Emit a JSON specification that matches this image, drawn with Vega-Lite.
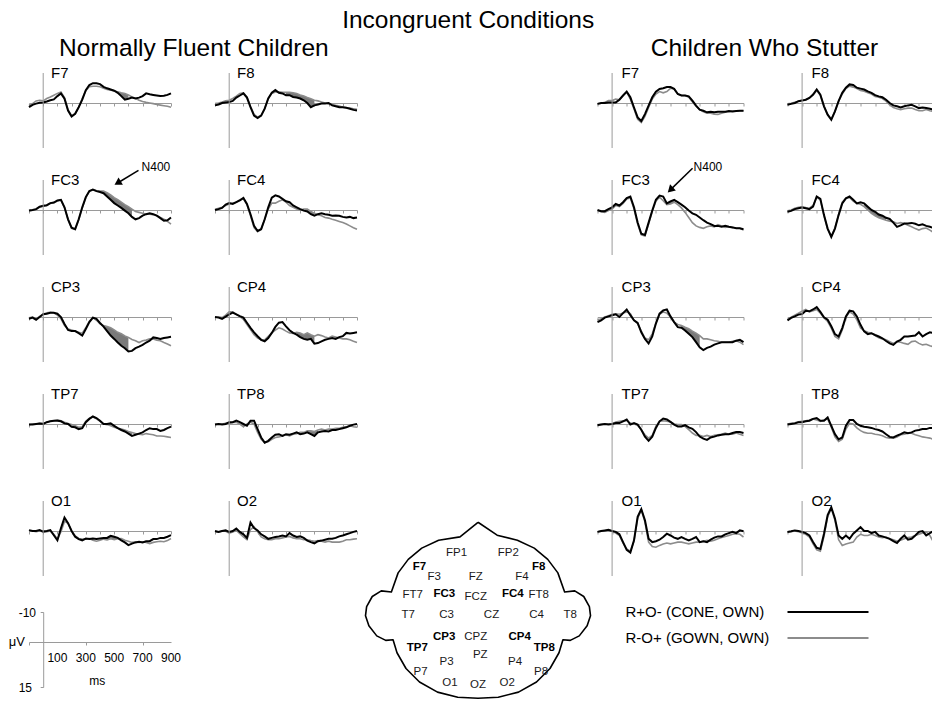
{
"$schema":"https://vega.github.io/schema/vega-lite/v6.json",
"padding":{"left":8,"top":8,"right":4,"bottom":4},
"background":"white",
"config":{"view":{"stroke":null},"font":"Liberation Sans",
"title":{"font":"Liberation Sans","fontWeight":"normal","color":"#000","fontSize":24.5},
"axis":{"grid":false,"labels":false,"title":null,"domainColor":"#9a9a9a","tickColor":"#9a9a9a","tickSize":3,"domainWidth":1,"tickWidth":1,"minExtent":0},
"axisX":{"minExtent":0},"axisY":{"minExtent":0},
"text":{"font":"Liberation Sans","color":"#000"}},
"title":{"text":"Incongruent Conditions","anchor":"middle","offset":-16.5,"baseline":"alphabetic","dx":-5},
"data":{"name":"erp"},
"datasets":{"erp":[
{"g":"NFC","e":"F7","t":-100,"a":1.4,"b":0.8},{"g":"NFC","e":"F7","t":-75,"a":0.6,"b":0.2},{"g":"NFC","e":"F7","t":-50,"a":0.2,"b":-0.7},{"g":"NFC","e":"F7","t":-25,"a":-0.1,"b":-0.9},{"g":"NFC","e":"F7","t":0,"a":-0.2,"b":-0.7},{"g":"NFC","e":"F7","t":25,"a":-0.5,"b":-1.5},{"g":"NFC","e":"F7","t":50,"a":-0.9,"b":-2.0},{"g":"NFC","e":"F7","t":75,"a":-1.2,"b":-2.6},{"g":"NFC","e":"F7","t":100,"a":-2.3,"b":-3.2},{"g":"NFC","e":"F7","t":125,"a":-3.2,"b":-3.7},
{"g":"NFC","e":"F7","t":150,"a":-1.4,"b":-1.8},{"g":"NFC","e":"F7","t":175,"a":2.5,"b":2.3},{"g":"NFC","e":"F7","t":200,"a":4.5,"b":4.2},{"g":"NFC","e":"F7","t":225,"a":3.6,"b":3.6},{"g":"NFC","e":"F7","t":250,"a":1.4,"b":1.4},{"g":"NFC","e":"F7","t":275,"a":-1.1,"b":-1.5},{"g":"NFC","e":"F7","t":300,"a":-4.3,"b":-4.1},{"g":"NFC","e":"F7","t":325,"a":-6.0,"b":-5.4},{"g":"NFC","e":"F7","t":350,"a":-6.6,"b":-5.6},{"g":"NFC","e":"F7","t":375,"a":-6.6,"b":-5.6},
{"g":"NFC","e":"F7","t":400,"a":-6.3,"b":-5.4},{"g":"NFC","e":"F7","t":425,"a":-5.4,"b":-4.9},{"g":"NFC","e":"F7","t":450,"a":-4.9,"b":-4.5},{"g":"NFC","e":"F7","t":475,"a":-4.5,"b":-4.3},{"g":"NFC","e":"F7","t":500,"a":-4.1,"b":-4.1},{"g":"NFC","e":"F7","t":525,"a":-3.4,"b":-3.7,"s":1},{"g":"NFC","e":"F7","t":550,"a":-2.3,"b":-3.4,"s":1},{"g":"NFC","e":"F7","t":575,"a":-1.1,"b":-3.2,"s":1},{"g":"NFC","e":"F7","t":600,"a":-1.4,"b":-2.7,"s":1},{"g":"NFC","e":"F7","t":625,"a":-1.8,"b":-2.0},
{"g":"NFC","e":"F7","t":650,"a":-1.5,"b":-1.6},{"g":"NFC","e":"F7","t":675,"a":-1.8,"b":-0.9},{"g":"NFC","e":"F7","t":700,"a":-2.3,"b":-0.5},{"g":"NFC","e":"F7","t":725,"a":-3.2,"b":-0.2},{"g":"NFC","e":"F7","t":750,"a":-2.9,"b":0},{"g":"NFC","e":"F7","t":775,"a":-2.7,"b":0.2},{"g":"NFC","e":"F7","t":800,"a":-2.5,"b":0.5},{"g":"NFC","e":"F7","t":825,"a":-2.3,"b":0.7},{"g":"NFC","e":"F7","t":850,"a":-2.4,"b":0.9},{"g":"NFC","e":"F7","t":875,"a":-2.7,"b":1.1},{"g":"NFC","e":"F7","t":900,"a":-3.2,"b":1.4},

{"g":"NFC","e":"F8","t":-100,"a":0.8,"b":0.2},{"g":"NFC","e":"F8","t":-75,"a":0.5,"b":0},{"g":"NFC","e":"F8","t":-50,"a":0,"b":-0.3},{"g":"NFC","e":"F8","t":-25,"a":-0.2,"b":-0.7},{"g":"NFC","e":"F8","t":0,"a":-0.3,"b":-0.9},{"g":"NFC","e":"F8","t":25,"a":-0.7,"b":-1.5},{"g":"NFC","e":"F8","t":50,"a":-1.8,"b":-2.3},{"g":"NFC","e":"F8","t":75,"a":-2.5,"b":-3.2},{"g":"NFC","e":"F8","t":100,"a":-3.2,"b":-3.4},{"g":"NFC","e":"F8","t":125,"a":-1.8,"b":-2.0},
{"g":"NFC","e":"F8","t":150,"a":1.4,"b":1.1},{"g":"NFC","e":"F8","t":175,"a":4.2,"b":3.8},{"g":"NFC","e":"F8","t":200,"a":5.0,"b":4.7},{"g":"NFC","e":"F8","t":225,"a":4.2,"b":4.2},{"g":"NFC","e":"F8","t":250,"a":1.9,"b":1.9},{"g":"NFC","e":"F8","t":275,"a":-1.5,"b":-1.5},{"g":"NFC","e":"F8","t":300,"a":-3.4,"b":-3.2},{"g":"NFC","e":"F8","t":325,"a":-4.3,"b":-3.7},{"g":"NFC","e":"F8","t":350,"a":-3.4,"b":-3.7},{"g":"NFC","e":"F8","t":375,"a":-3.2,"b":-3.6},
{"g":"NFC","e":"F8","t":400,"a":-2.6,"b":-3.6,"s":1},{"g":"NFC","e":"F8","t":425,"a":-2.6,"b":-3.6,"s":1},{"g":"NFC","e":"F8","t":450,"a":-2.0,"b":-3.4,"s":1},{"g":"NFC","e":"F8","t":475,"a":-1.8,"b":-3.2,"s":1},{"g":"NFC","e":"F8","t":500,"a":-1.5,"b":-2.7,"s":1},{"g":"NFC","e":"F8","t":525,"a":-0.9,"b":-2.3,"s":1},{"g":"NFC","e":"F8","t":550,"a":0,"b":-1.8,"s":1},{"g":"NFC","e":"F8","t":575,"a":1.4,"b":-1.4,"s":1},{"g":"NFC","e":"F8","t":600,"a":0.8,"b":-0.9,"s":1},{"g":"NFC","e":"F8","t":625,"a":0.5,"b":-0.7},
{"g":"NFC","e":"F8","t":650,"a":0.2,"b":-0.3},{"g":"NFC","e":"F8","t":675,"a":0.2,"b":0},{"g":"NFC","e":"F8","t":700,"a":0,"b":0.2},{"g":"NFC","e":"F8","t":725,"a":0.8,"b":0.5},{"g":"NFC","e":"F8","t":750,"a":1.1,"b":0.8},{"g":"NFC","e":"F8","t":775,"a":1.4,"b":1.0},{"g":"NFC","e":"F8","t":800,"a":1.4,"b":1.4},{"g":"NFC","e":"F8","t":825,"a":1.6,"b":1.6},{"g":"NFC","e":"F8","t":850,"a":1.9,"b":1.7},{"g":"NFC","e":"F8","t":875,"a":2.3,"b":1.9},{"g":"NFC","e":"F8","t":900,"a":2.5,"b":2.1},

{"g":"NFC","e":"FC3","t":-100,"a":0.2,"b":0.3},{"g":"NFC","e":"FC3","t":-75,"a":0,"b":0.1},{"g":"NFC","e":"FC3","t":-50,"a":-0.3,"b":-0.2},{"g":"NFC","e":"FC3","t":-25,"a":-1.1,"b":-1.0},{"g":"NFC","e":"FC3","t":0,"a":-1.4,"b":-1.3},{"g":"NFC","e":"FC3","t":25,"a":-1.6,"b":-1.5},{"g":"NFC","e":"FC3","t":50,"a":-2.3,"b":-2.2},{"g":"NFC","e":"FC3","t":75,"a":-2.5,"b":-2.4},{"g":"NFC","e":"FC3","t":100,"a":-3.2,"b":-3.0},{"g":"NFC","e":"FC3","t":125,"a":-3.4,"b":-3.3},
{"g":"NFC","e":"FC3","t":150,"a":-0.9,"b":-0.8},{"g":"NFC","e":"FC3","t":175,"a":3.1,"b":3.2},{"g":"NFC","e":"FC3","t":200,"a":5.9,"b":6.1},{"g":"NFC","e":"FC3","t":225,"a":6.4,"b":6.5},{"g":"NFC","e":"FC3","t":250,"a":3.1,"b":3.3},{"g":"NFC","e":"FC3","t":275,"a":-0.9,"b":-0.7},{"g":"NFC","e":"FC3","t":300,"a":-4.3,"b":-4.1},{"g":"NFC","e":"FC3","t":325,"a":-6.3,"b":-6.2},{"g":"NFC","e":"FC3","t":350,"a":-6.8,"b":-6.8},{"g":"NFC","e":"FC3","t":375,"a":-6.3,"b":-6.5},
{"g":"NFC","e":"FC3","t":400,"a":-6.0,"b":-6.3},{"g":"NFC","e":"FC3","t":425,"a":-5.6,"b":-6.3,"s":1},{"g":"NFC","e":"FC3","t":450,"a":-4.5,"b":-5.8,"s":1},{"g":"NFC","e":"FC3","t":475,"a":-3.4,"b":-5.0,"s":1},{"g":"NFC","e":"FC3","t":500,"a":-2.3,"b":-4.1,"s":1},{"g":"NFC","e":"FC3","t":525,"a":-1.5,"b":-3.4,"s":1},{"g":"NFC","e":"FC3","t":550,"a":-0.7,"b":-2.6,"s":1},{"g":"NFC","e":"FC3","t":575,"a":0.2,"b":-1.8,"s":1},{"g":"NFC","e":"FC3","t":600,"a":1.1,"b":-1.1,"s":1},{"g":"NFC","e":"FC3","t":625,"a":2.3,"b":-0.3,"s":1},
{"g":"NFC","e":"FC3","t":650,"a":3.1,"b":0.5},{"g":"NFC","e":"FC3","t":675,"a":2.7,"b":0.8},{"g":"NFC","e":"FC3","t":700,"a":1.9,"b":1.1},{"g":"NFC","e":"FC3","t":725,"a":1.4,"b":1.4},{"g":"NFC","e":"FC3","t":750,"a":1.1,"b":1.4},{"g":"NFC","e":"FC3","t":775,"a":1.4,"b":1.6},{"g":"NFC","e":"FC3","t":800,"a":1.9,"b":1.9},{"g":"NFC","e":"FC3","t":825,"a":2.7,"b":2.5},{"g":"NFC","e":"FC3","t":850,"a":3.6,"b":3.1},{"g":"NFC","e":"FC3","t":875,"a":3.4,"b":3.8},{"g":"NFC","e":"FC3","t":900,"a":2.5,"b":4.7},

{"g":"NFC","e":"FC4","t":-100,"a":0,"b":-0.2},{"g":"NFC","e":"FC4","t":-75,"a":-0.3,"b":-0.6},{"g":"NFC","e":"FC4","t":-50,"a":-0.7,"b":-0.9},{"g":"NFC","e":"FC4","t":-25,"a":-1.8,"b":-1.5},{"g":"NFC","e":"FC4","t":0,"a":-2.3,"b":-2.0},{"g":"NFC","e":"FC4","t":25,"a":-2.0,"b":-2.3},{"g":"NFC","e":"FC4","t":50,"a":-2.6,"b":-2.6},{"g":"NFC","e":"FC4","t":75,"a":-3.2,"b":-3.4},{"g":"NFC","e":"FC4","t":100,"a":-4.0,"b":-3.7},{"g":"NFC","e":"FC4","t":125,"a":-2.0,"b":-1.8},
{"g":"NFC","e":"FC4","t":150,"a":1.4,"b":1.9},{"g":"NFC","e":"FC4","t":175,"a":5.3,"b":5.9},{"g":"NFC","e":"FC4","t":200,"a":7.0,"b":7.2},{"g":"NFC","e":"FC4","t":225,"a":6.4,"b":6.4},{"g":"NFC","e":"FC4","t":250,"a":3.1,"b":3.1},{"g":"NFC","e":"FC4","t":275,"a":-0.9,"b":-0.3},{"g":"NFC","e":"FC4","t":300,"a":-4.1,"b":-2.3},{"g":"NFC","e":"FC4","t":325,"a":-4.9,"b":-2.3},{"g":"NFC","e":"FC4","t":350,"a":-4.5,"b":-2.9},{"g":"NFC","e":"FC4","t":375,"a":-3.7,"b":-3.4},
{"g":"NFC","e":"FC4","t":400,"a":-2.9,"b":-2.6},{"g":"NFC","e":"FC4","t":425,"a":-2.6,"b":-1.5},{"g":"NFC","e":"FC4","t":450,"a":-1.5,"b":-0.9},{"g":"NFC","e":"FC4","t":475,"a":-0.9,"b":-0.3},{"g":"NFC","e":"FC4","t":500,"a":-0.3,"b":0},{"g":"NFC","e":"FC4","t":525,"a":0.2,"b":-0.3,"s":1},{"g":"NFC","e":"FC4","t":550,"a":0.5,"b":-0.3,"s":1},{"g":"NFC","e":"FC4","t":575,"a":1.4,"b":0.5,"s":1},{"g":"NFC","e":"FC4","t":600,"a":1.9,"b":1.1,"s":1},{"g":"NFC","e":"FC4","t":625,"a":1.4,"b":1.6},
{"g":"NFC","e":"FC4","t":650,"a":1.1,"b":1.9},{"g":"NFC","e":"FC4","t":675,"a":1.4,"b":2.5},{"g":"NFC","e":"FC4","t":700,"a":1.6,"b":2.7},{"g":"NFC","e":"FC4","t":725,"a":1.9,"b":3.1},{"g":"NFC","e":"FC4","t":750,"a":1.8,"b":3.4},{"g":"NFC","e":"FC4","t":775,"a":1.9,"b":3.8},{"g":"NFC","e":"FC4","t":800,"a":2.3,"b":4.2},{"g":"NFC","e":"FC4","t":825,"a":2.5,"b":4.7},{"g":"NFC","e":"FC4","t":850,"a":2.3,"b":5.3},{"g":"NFC","e":"FC4","t":875,"a":2.7,"b":5.9},{"g":"NFC","e":"FC4","t":900,"a":2.5,"b":6.4},

{"g":"NFC","e":"CP3","t":-100,"a":0.6,"b":0.3},{"g":"NFC","e":"CP3","t":-75,"a":0.2,"b":0},{"g":"NFC","e":"CP3","t":-50,"a":0.9,"b":0.6},{"g":"NFC","e":"CP3","t":-25,"a":0,"b":-0.2},{"g":"NFC","e":"CP3","t":0,"a":-0.9,"b":-0.9},{"g":"NFC","e":"CP3","t":25,"a":-1.1,"b":-1.4},{"g":"NFC","e":"CP3","t":50,"a":-1.4,"b":-1.6},{"g":"NFC","e":"CP3","t":75,"a":-1.4,"b":-1.4},{"g":"NFC","e":"CP3","t":100,"a":-1.1,"b":-0.6},{"g":"NFC","e":"CP3","t":125,"a":0,"b":0.6},
{"g":"NFC","e":"CP3","t":150,"a":2.3,"b":2.8},{"g":"NFC","e":"CP3","t":175,"a":4.3,"b":4.0},{"g":"NFC","e":"CP3","t":200,"a":4.7,"b":4.3},{"g":"NFC","e":"CP3","t":225,"a":4.7,"b":4.7},{"g":"NFC","e":"CP3","t":250,"a":5.4,"b":5.1},{"g":"NFC","e":"CP3","t":275,"a":6.2,"b":5.4},{"g":"NFC","e":"CP3","t":300,"a":4.0,"b":3.6},{"g":"NFC","e":"CP3","t":325,"a":1.7,"b":1.4},{"g":"NFC","e":"CP3","t":350,"a":0.2,"b":0.2},{"g":"NFC","e":"CP3","t":375,"a":0.6,"b":1.1},
{"g":"NFC","e":"CP3","t":400,"a":2.0,"b":2.3},{"g":"NFC","e":"CP3","t":425,"a":3.2,"b":2.8,"s":1},{"g":"NFC","e":"CP3","t":450,"a":4.7,"b":3.2,"s":1},{"g":"NFC","e":"CP3","t":475,"a":6.2,"b":3.6,"s":1},{"g":"NFC","e":"CP3","t":500,"a":7.3,"b":4.3,"s":1},{"g":"NFC","e":"CP3","t":525,"a":8.5,"b":5.1,"s":1},{"g":"NFC","e":"CP3","t":550,"a":9.6,"b":5.6,"s":1},{"g":"NFC","e":"CP3","t":575,"a":10.4,"b":6.3,"s":1},{"g":"NFC","e":"CP3","t":600,"a":11.5,"b":6.8,"s":1},{"g":"NFC","e":"CP3","t":625,"a":11.3,"b":7.5},
{"g":"NFC","e":"CP3","t":650,"a":10.4,"b":7.9},{"g":"NFC","e":"CP3","t":675,"a":9.9,"b":8.5},{"g":"NFC","e":"CP3","t":700,"a":9.3,"b":7.9},{"g":"NFC","e":"CP3","t":725,"a":8.5,"b":7.7},{"g":"NFC","e":"CP3","t":750,"a":7.9,"b":7.3},{"g":"NFC","e":"CP3","t":775,"a":6.8,"b":7.3},{"g":"NFC","e":"CP3","t":800,"a":7.0,"b":7.7},{"g":"NFC","e":"CP3","t":825,"a":7.3,"b":7.9},{"g":"NFC","e":"CP3","t":850,"a":7.0,"b":8.5},{"g":"NFC","e":"CP3","t":875,"a":6.8,"b":9.0},{"g":"NFC","e":"CP3","t":900,"a":6.6,"b":9.6},

{"g":"NFC","e":"CP4","t":-100,"a":0,"b":0},{"g":"NFC","e":"CP4","t":-75,"a":0.2,"b":-0.1},{"g":"NFC","e":"CP4","t":-50,"a":0.6,"b":0.2},{"g":"NFC","e":"CP4","t":-25,"a":-0.1,"b":-0.6},{"g":"NFC","e":"CP4","t":0,"a":-0.9,"b":-1.7},{"g":"NFC","e":"CP4","t":25,"a":-1.5,"b":-1.7},{"g":"NFC","e":"CP4","t":50,"a":-0.9,"b":-0.9},{"g":"NFC","e":"CP4","t":75,"a":-0.3,"b":-0.1},{"g":"NFC","e":"CP4","t":100,"a":0.2,"b":0.8},{"g":"NFC","e":"CP4","t":125,"a":1.9,"b":2.5},
{"g":"NFC","e":"CP4","t":150,"a":3.6,"b":4.2},{"g":"NFC","e":"CP4","t":175,"a":5.1,"b":5.9},{"g":"NFC","e":"CP4","t":200,"a":6.4,"b":7.0},{"g":"NFC","e":"CP4","t":225,"a":7.6,"b":7.6},{"g":"NFC","e":"CP4","t":250,"a":8.1,"b":7.6},{"g":"NFC","e":"CP4","t":275,"a":7.0,"b":6.4},{"g":"NFC","e":"CP4","t":300,"a":5.3,"b":5.3},{"g":"NFC","e":"CP4","t":325,"a":3.3,"b":4.4},{"g":"NFC","e":"CP4","t":350,"a":1.9,"b":3.6},{"g":"NFC","e":"CP4","t":375,"a":1.7,"b":4.0},
{"g":"NFC","e":"CP4","t":400,"a":3.1,"b":4.7},{"g":"NFC","e":"CP4","t":425,"a":4.4,"b":5.3},{"g":"NFC","e":"CP4","t":450,"a":5.3,"b":5.5},{"g":"NFC","e":"CP4","t":475,"a":5.9,"b":5.1,"s":1},{"g":"NFC","e":"CP4","t":500,"a":6.7,"b":5.3,"s":1},{"g":"NFC","e":"CP4","t":525,"a":7.3,"b":5.9,"s":1},{"g":"NFC","e":"CP4","t":550,"a":7.6,"b":5.3,"s":1},{"g":"NFC","e":"CP4","t":575,"a":7.3,"b":5.9,"s":1},{"g":"NFC","e":"CP4","t":600,"a":8.9,"b":6.4,"s":1},{"g":"NFC","e":"CP4","t":625,"a":8.7,"b":5.9},
{"g":"NFC","e":"CP4","t":650,"a":8.1,"b":6.2},{"g":"NFC","e":"CP4","t":675,"a":7.6,"b":6.7},{"g":"NFC","e":"CP4","t":700,"a":7.3,"b":7.0},{"g":"NFC","e":"CP4","t":725,"a":7.0,"b":6.4},{"g":"NFC","e":"CP4","t":750,"a":7.3,"b":6.7},{"g":"NFC","e":"CP4","t":775,"a":6.7,"b":7.0},{"g":"NFC","e":"CP4","t":800,"a":6.4,"b":7.3},{"g":"NFC","e":"CP4","t":825,"a":5.3,"b":7.3},{"g":"NFC","e":"CP4","t":850,"a":5.5,"b":7.6},{"g":"NFC","e":"CP4","t":875,"a":5.3,"b":8.1},{"g":"NFC","e":"CP4","t":900,"a":5.1,"b":8.5},

{"g":"NFC","e":"TP7","t":-100,"a":0.2,"b":0.2},{"g":"NFC","e":"TP7","t":-75,"a":0.2,"b":0},{"g":"NFC","e":"TP7","t":-50,"a":0,"b":0},{"g":"NFC","e":"TP7","t":-25,"a":-0.2,"b":-0.2},{"g":"NFC","e":"TP7","t":0,"a":0,"b":-0.2},{"g":"NFC","e":"TP7","t":25,"a":-0.6,"b":-0.6},{"g":"NFC","e":"TP7","t":50,"a":-0.9,"b":-0.9},{"g":"NFC","e":"TP7","t":75,"a":-1.1,"b":-1.1},{"g":"NFC","e":"TP7","t":100,"a":-1.1,"b":-1.4},{"g":"NFC","e":"TP7","t":125,"a":-0.9,"b":-1.1},
{"g":"NFC","e":"TP7","t":150,"a":-0.2,"b":-0.6},{"g":"NFC","e":"TP7","t":175,"a":0,"b":-0.2},{"g":"NFC","e":"TP7","t":200,"a":0.9,"b":0.2},{"g":"NFC","e":"TP7","t":225,"a":1.1,"b":0.6},{"g":"NFC","e":"TP7","t":250,"a":1.7,"b":1.1},{"g":"NFC","e":"TP7","t":275,"a":1.4,"b":0.9},{"g":"NFC","e":"TP7","t":300,"a":-0.6,"b":-0.9},{"g":"NFC","e":"TP7","t":325,"a":-1.7,"b":-1.9},{"g":"NFC","e":"TP7","t":350,"a":-2.5,"b":-2.3},{"g":"NFC","e":"TP7","t":375,"a":-2.0,"b":-1.7},
{"g":"NFC","e":"TP7","t":400,"a":-1.1,"b":-0.9},{"g":"NFC","e":"TP7","t":425,"a":0,"b":0},{"g":"NFC","e":"TP7","t":450,"a":0,"b":0.2},{"g":"NFC","e":"TP7","t":475,"a":-0.2,"b":0.6},{"g":"NFC","e":"TP7","t":500,"a":0.6,"b":1.1,"s":1},{"g":"NFC","e":"TP7","t":525,"a":1.4,"b":1.4,"s":1},{"g":"NFC","e":"TP7","t":550,"a":2.0,"b":1.7,"s":1},{"g":"NFC","e":"TP7","t":575,"a":2.5,"b":2.0,"s":1},{"g":"NFC","e":"TP7","t":600,"a":3.2,"b":2.5,"s":1},{"g":"NFC","e":"TP7","t":625,"a":4.0,"b":2.8,"s":1},
{"g":"NFC","e":"TP7","t":650,"a":3.6,"b":3.2},{"g":"NFC","e":"TP7","t":675,"a":3.2,"b":3.4},{"g":"NFC","e":"TP7","t":700,"a":2.8,"b":3.6},{"g":"NFC","e":"TP7","t":725,"a":2.0,"b":3.2},{"g":"NFC","e":"TP7","t":750,"a":1.4,"b":3.4},{"g":"NFC","e":"TP7","t":775,"a":1.7,"b":3.6},{"g":"NFC","e":"TP7","t":800,"a":1.7,"b":4.0},{"g":"NFC","e":"TP7","t":825,"a":2.3,"b":4.0},{"g":"NFC","e":"TP7","t":850,"a":2.0,"b":4.1},{"g":"NFC","e":"TP7","t":875,"a":1.4,"b":4.3},{"g":"NFC","e":"TP7","t":900,"a":0.9,"b":4.5},

{"g":"NFC","e":"TP8","t":-100,"a":0.2,"b":0.2},{"g":"NFC","e":"TP8","t":-75,"a":0,"b":0},{"g":"NFC","e":"TP8","t":-50,"a":0.2,"b":0},{"g":"NFC","e":"TP8","t":-25,"a":0,"b":-0.2},{"g":"NFC","e":"TP8","t":0,"a":-0.6,"b":-0.2},{"g":"NFC","e":"TP8","t":25,"a":-0.6,"b":-0.5},{"g":"NFC","e":"TP8","t":50,"a":-1.1,"b":-0.6},{"g":"NFC","e":"TP8","t":75,"a":-0.6,"b":0},{"g":"NFC","e":"TP8","t":100,"a":0,"b":0.9},{"g":"NFC","e":"TP8","t":125,"a":0.6,"b":0},
{"g":"NFC","e":"TP8","t":150,"a":-1.1,"b":-0.6},{"g":"NFC","e":"TP8","t":175,"a":-1.1,"b":0},{"g":"NFC","e":"TP8","t":200,"a":1.7,"b":2.8},{"g":"NFC","e":"TP8","t":225,"a":4.5,"b":5.1},{"g":"NFC","e":"TP8","t":250,"a":6.2,"b":6.2},{"g":"NFC","e":"TP8","t":275,"a":5.6,"b":5.9},{"g":"NFC","e":"TP8","t":300,"a":4.5,"b":5.1},{"g":"NFC","e":"TP8","t":325,"a":3.6,"b":4.5},{"g":"NFC","e":"TP8","t":350,"a":3.4,"b":4.3},{"g":"NFC","e":"TP8","t":375,"a":4.0,"b":4.0},
{"g":"NFC","e":"TP8","t":400,"a":3.4,"b":3.6},{"g":"NFC","e":"TP8","t":425,"a":3.6,"b":4.0},{"g":"NFC","e":"TP8","t":450,"a":3.2,"b":3.4},{"g":"NFC","e":"TP8","t":475,"a":2.8,"b":3.2},{"g":"NFC","e":"TP8","t":500,"a":3.4,"b":2.8},{"g":"NFC","e":"TP8","t":525,"a":3.2,"b":2.8},{"g":"NFC","e":"TP8","t":550,"a":2.8,"b":2.3,"s":1},{"g":"NFC","e":"TP8","t":575,"a":3.4,"b":2.3,"s":1},{"g":"NFC","e":"TP8","t":600,"a":4.0,"b":2.5,"s":1},{"g":"NFC","e":"TP8","t":625,"a":2.8,"b":2.0,"s":1},
{"g":"NFC","e":"TP8","t":650,"a":2.5,"b":1.7},{"g":"NFC","e":"TP8","t":675,"a":2.3,"b":2.0},{"g":"NFC","e":"TP8","t":700,"a":2.5,"b":1.7},{"g":"NFC","e":"TP8","t":725,"a":2.0,"b":1.7},{"g":"NFC","e":"TP8","t":750,"a":2.0,"b":1.4},{"g":"NFC","e":"TP8","t":775,"a":1.7,"b":1.4},{"g":"NFC","e":"TP8","t":800,"a":1.4,"b":1.1},{"g":"NFC","e":"TP8","t":825,"a":1.1,"b":0.9},{"g":"NFC","e":"TP8","t":850,"a":0.6,"b":0.6},{"g":"NFC","e":"TP8","t":875,"a":0.2,"b":0.9},{"g":"NFC","e":"TP8","t":900,"a":0,"b":1.1},

{"g":"NFC","e":"O1","t":-100,"a":-0.3,"b":0},{"g":"NFC","e":"O1","t":-75,"a":0,"b":0},{"g":"NFC","e":"O1","t":-50,"a":0,"b":0.2},{"g":"NFC","e":"O1","t":-25,"a":-0.3,"b":0},{"g":"NFC","e":"O1","t":0,"a":0.2,"b":0.2},{"g":"NFC","e":"O1","t":25,"a":0,"b":0.2},{"g":"NFC","e":"O1","t":50,"a":-0.3,"b":0},{"g":"NFC","e":"O1","t":75,"a":1.4,"b":1.1},{"g":"NFC","e":"O1","t":100,"a":3.1,"b":2.7},{"g":"NFC","e":"O1","t":125,"a":-0.9,"b":0.2},
{"g":"NFC","e":"O1","t":150,"a":-4.5,"b":-3.2},{"g":"NFC","e":"O1","t":175,"a":-2.6,"b":-2.6},{"g":"NFC","e":"O1","t":200,"a":0,"b":0},{"g":"NFC","e":"O1","t":225,"a":1.9,"b":1.6},{"g":"NFC","e":"O1","t":250,"a":2.7,"b":2.5},{"g":"NFC","e":"O1","t":275,"a":3.1,"b":2.7},{"g":"NFC","e":"O1","t":300,"a":2.5,"b":2.7},{"g":"NFC","e":"O1","t":325,"a":2.7,"b":2.5},{"g":"NFC","e":"O1","t":350,"a":2.5,"b":3.1},{"g":"NFC","e":"O1","t":375,"a":2.7,"b":3.4},
{"g":"NFC","e":"O1","t":400,"a":2.5,"b":3.1},{"g":"NFC","e":"O1","t":425,"a":2.3,"b":2.7},{"g":"NFC","e":"O1","t":450,"a":2.3,"b":3.0,"s":1},{"g":"NFC","e":"O1","t":475,"a":1.6,"b":2.6,"s":1},{"g":"NFC","e":"O1","t":500,"a":1.9,"b":2.9,"s":1},{"g":"NFC","e":"O1","t":525,"a":2.3,"b":2.6,"s":1},{"g":"NFC","e":"O1","t":550,"a":3.1,"b":2.5},{"g":"NFC","e":"O1","t":575,"a":3.8,"b":3.1},{"g":"NFC","e":"O1","t":600,"a":4.7,"b":3.4},{"g":"NFC","e":"O1","t":625,"a":4.2,"b":3.8},
{"g":"NFC","e":"O1","t":650,"a":3.8,"b":3.6},{"g":"NFC","e":"O1","t":675,"a":3.6,"b":3.8},{"g":"NFC","e":"O1","t":700,"a":3.8,"b":3.6},{"g":"NFC","e":"O1","t":725,"a":3.4,"b":3.8},{"g":"NFC","e":"O1","t":750,"a":3.4,"b":4.2},{"g":"NFC","e":"O1","t":775,"a":2.7,"b":3.8},{"g":"NFC","e":"O1","t":800,"a":2.7,"b":3.6},{"g":"NFC","e":"O1","t":825,"a":2.3,"b":3.4},{"g":"NFC","e":"O1","t":850,"a":2.3,"b":3.6},{"g":"NFC","e":"O1","t":875,"a":1.9,"b":3.2},{"g":"NFC","e":"O1","t":900,"a":1.4,"b":2.5},

{"g":"NFC","e":"O2","t":-100,"a":0,"b":0.3},{"g":"NFC","e":"O2","t":-75,"a":0.3,"b":0.3},{"g":"NFC","e":"O2","t":-50,"a":0,"b":0},{"g":"NFC","e":"O2","t":-25,"a":-0.2,"b":0.1},{"g":"NFC","e":"O2","t":0,"a":0.3,"b":0.7},{"g":"NFC","e":"O2","t":25,"a":0,"b":0.3},{"g":"NFC","e":"O2","t":50,"a":-0.8,"b":-0.2},{"g":"NFC","e":"O2","t":75,"a":0.3,"b":0.9},{"g":"NFC","e":"O2","t":100,"a":1.1,"b":2.0},{"g":"NFC","e":"O2","t":125,"a":2.3,"b":2.9},
{"g":"NFC","e":"O2","t":150,"a":-2.8,"b":-0.5},{"g":"NFC","e":"O2","t":175,"a":-1.0,"b":-1.4},{"g":"NFC","e":"O2","t":200,"a":-0.2,"b":0.3},{"g":"NFC","e":"O2","t":225,"a":1.1,"b":2.0},{"g":"NFC","e":"O2","t":250,"a":1.8,"b":2.6},{"g":"NFC","e":"O2","t":275,"a":2.6,"b":2.9},{"g":"NFC","e":"O2","t":300,"a":2.3,"b":2.9},{"g":"NFC","e":"O2","t":325,"a":2.0,"b":2.6},{"g":"NFC","e":"O2","t":350,"a":1.8,"b":2.6},{"g":"NFC","e":"O2","t":375,"a":1.5,"b":2.3},
{"g":"NFC","e":"O2","t":400,"a":1.8,"b":2.0},{"g":"NFC","e":"O2","t":425,"a":0.7,"b":1.8},{"g":"NFC","e":"O2","t":450,"a":1.5,"b":2.3},{"g":"NFC","e":"O2","t":475,"a":2.0,"b":2.6},{"g":"NFC","e":"O2","t":500,"a":1.8,"b":2.6},{"g":"NFC","e":"O2","t":525,"a":2.3,"b":2.9},{"g":"NFC","e":"O2","t":550,"a":3.2,"b":2.9},{"g":"NFC","e":"O2","t":575,"a":3.7,"b":3.2},{"g":"NFC","e":"O2","t":600,"a":4.1,"b":3.4},{"g":"NFC","e":"O2","t":625,"a":3.4,"b":3.2},
{"g":"NFC","e":"O2","t":650,"a":3.2,"b":3.4},{"g":"NFC","e":"O2","t":675,"a":2.9,"b":3.7},{"g":"NFC","e":"O2","t":700,"a":2.6,"b":3.4},{"g":"NFC","e":"O2","t":725,"a":2.6,"b":3.7},{"g":"NFC","e":"O2","t":750,"a":2.3,"b":3.7},{"g":"NFC","e":"O2","t":775,"a":1.8,"b":3.7},{"g":"NFC","e":"O2","t":800,"a":1.5,"b":3.4},{"g":"NFC","e":"O2","t":825,"a":1.1,"b":2.9},{"g":"NFC","e":"O2","t":850,"a":0.7,"b":2.9},{"g":"NFC","e":"O2","t":875,"a":0.3,"b":2.7},{"g":"NFC","e":"O2","t":900,"a":0,"b":2.6},

{"g":"CWS","e":"F7","t":-100,"a":0.3,"b":0.3},{"g":"CWS","e":"F7","t":-75,"a":0,"b":0.1},{"g":"CWS","e":"F7","t":-50,"a":0,"b":-0.2},{"g":"CWS","e":"F7","t":-25,"a":-0.2,"b":-0.8},{"g":"CWS","e":"F7","t":0,"a":-0.2,"b":-0.8},{"g":"CWS","e":"F7","t":25,"a":-0.2,"b":-1.3},{"g":"CWS","e":"F7","t":50,"a":-1.1,"b":-1.1},{"g":"CWS","e":"F7","t":75,"a":-2.5,"b":-2.5},{"g":"CWS","e":"F7","t":100,"a":-3.8,"b":-3.6},{"g":"CWS","e":"F7","t":125,"a":-1.9,"b":-1.3},
{"g":"CWS","e":"F7","t":150,"a":1.5,"b":2.0},{"g":"CWS","e":"F7","t":175,"a":4.8,"b":5.4},{"g":"CWS","e":"F7","t":200,"a":6.0,"b":6.5},{"g":"CWS","e":"F7","t":225,"a":3.7,"b":4.5},{"g":"CWS","e":"F7","t":250,"a":0.9,"b":1.5},{"g":"CWS","e":"F7","t":275,"a":-1.9,"b":-1.3},{"g":"CWS","e":"F7","t":300,"a":-3.8,"b":-3.0},{"g":"CWS","e":"F7","t":325,"a":-4.7,"b":-3.8},{"g":"CWS","e":"F7","t":350,"a":-4.9,"b":-3.4},{"g":"CWS","e":"F7","t":375,"a":-5.3,"b":-3.8},
{"g":"CWS","e":"F7","t":400,"a":-5.3,"b":-4.9},{"g":"CWS","e":"F7","t":425,"a":-4.7,"b":-4.7},{"g":"CWS","e":"F7","t":450,"a":-3.0,"b":-3.0},{"g":"CWS","e":"F7","t":475,"a":-2.5,"b":-2.5},{"g":"CWS","e":"F7","t":500,"a":-2.5,"b":-2.5},{"g":"CWS","e":"F7","t":525,"a":-2.2,"b":-1.9},{"g":"CWS","e":"F7","t":550,"a":-0.8,"b":-0.4},{"g":"CWS","e":"F7","t":575,"a":0.9,"b":1.1},{"g":"CWS","e":"F7","t":600,"a":2.2,"b":2.2},{"g":"CWS","e":"F7","t":625,"a":2.6,"b":2.9},
{"g":"CWS","e":"F7","t":650,"a":3.1,"b":3.4},{"g":"CWS","e":"F7","t":675,"a":2.9,"b":3.4},{"g":"CWS","e":"F7","t":700,"a":3.1,"b":3.7},{"g":"CWS","e":"F7","t":725,"a":2.9,"b":3.8},{"g":"CWS","e":"F7","t":750,"a":2.9,"b":3.4},{"g":"CWS","e":"F7","t":775,"a":2.9,"b":3.1},{"g":"CWS","e":"F7","t":800,"a":2.7,"b":2.9},{"g":"CWS","e":"F7","t":825,"a":2.8,"b":2.7},{"g":"CWS","e":"F7","t":850,"a":2.7,"b":2.7},{"g":"CWS","e":"F7","t":875,"a":2.6,"b":2.6},{"g":"CWS","e":"F7","t":900,"a":2.6,"b":2.6},

{"g":"CWS","e":"F8","t":-100,"a":0.6,"b":0.3},{"g":"CWS","e":"F8","t":-75,"a":0.3,"b":0.1},{"g":"CWS","e":"F8","t":-50,"a":0,"b":-0.2},{"g":"CWS","e":"F8","t":-25,"a":-0.6,"b":-0.6},{"g":"CWS","e":"F8","t":0,"a":-0.8,"b":-0.9},{"g":"CWS","e":"F8","t":25,"a":-1.1,"b":-1.1},{"g":"CWS","e":"F8","t":50,"a":-1.7,"b":-1.7},{"g":"CWS","e":"F8","t":75,"a":-2.8,"b":-2.6},{"g":"CWS","e":"F8","t":100,"a":-4.5,"b":-4.2},{"g":"CWS","e":"F8","t":125,"a":-2.8,"b":-2.6},
{"g":"CWS","e":"F8","t":150,"a":1.1,"b":1.1},{"g":"CWS","e":"F8","t":175,"a":3.9,"b":3.9},{"g":"CWS","e":"F8","t":200,"a":5.6,"b":5.3},{"g":"CWS","e":"F8","t":225,"a":2.8,"b":2.8},{"g":"CWS","e":"F8","t":250,"a":-0.6,"b":-0.6},{"g":"CWS","e":"F8","t":275,"a":-3.4,"b":-3.0},{"g":"CWS","e":"F8","t":300,"a":-5.1,"b":-4.8},{"g":"CWS","e":"F8","t":325,"a":-6.2,"b":-5.6},{"g":"CWS","e":"F8","t":350,"a":-6.0,"b":-5.3},{"g":"CWS","e":"F8","t":375,"a":-5.1,"b":-4.8},
{"g":"CWS","e":"F8","t":400,"a":-4.8,"b":-4.2},{"g":"CWS","e":"F8","t":425,"a":-4.5,"b":-3.9},{"g":"CWS","e":"F8","t":450,"a":-3.9,"b":-3.4},{"g":"CWS","e":"F8","t":475,"a":-3.4,"b":-3.0},{"g":"CWS","e":"F8","t":500,"a":-2.6,"b":-2.2},{"g":"CWS","e":"F8","t":525,"a":-2.2,"b":-1.9},{"g":"CWS","e":"F8","t":550,"a":-1.9,"b":-1.5},{"g":"CWS","e":"F8","t":575,"a":-1.1,"b":-0.6},{"g":"CWS","e":"F8","t":600,"a":0,"b":0.6},{"g":"CWS","e":"F8","t":625,"a":0.8,"b":1.5},
{"g":"CWS","e":"F8","t":650,"a":1.1,"b":1.9},{"g":"CWS","e":"F8","t":675,"a":1.5,"b":2.2},{"g":"CWS","e":"F8","t":700,"a":1.1,"b":1.9},{"g":"CWS","e":"F8","t":725,"a":0.8,"b":1.7},{"g":"CWS","e":"F8","t":750,"a":0.6,"b":1.7},{"g":"CWS","e":"F8","t":775,"a":1.1,"b":2.2},{"g":"CWS","e":"F8","t":800,"a":1.7,"b":2.6},{"g":"CWS","e":"F8","t":825,"a":1.5,"b":2.6},{"g":"CWS","e":"F8","t":850,"a":1.7,"b":2.2},{"g":"CWS","e":"F8","t":875,"a":1.9,"b":2.6},{"g":"CWS","e":"F8","t":900,"a":2.2,"b":2.8},

{"g":"CWS","e":"FC3","t":-100,"a":0,"b":0.2},{"g":"CWS","e":"FC3","t":-75,"a":0.4,"b":0.6},{"g":"CWS","e":"FC3","t":-50,"a":0.4,"b":0.8},{"g":"CWS","e":"FC3","t":-25,"a":-0.3,"b":0.2},{"g":"CWS","e":"FC3","t":0,"a":-0.9,"b":-0.3},{"g":"CWS","e":"FC3","t":25,"a":-2.0,"b":-1.5},{"g":"CWS","e":"FC3","t":50,"a":-1.5,"b":-1.1},{"g":"CWS","e":"FC3","t":75,"a":-2.6,"b":-2.2},{"g":"CWS","e":"FC3","t":100,"a":-4.0,"b":-3.7},{"g":"CWS","e":"FC3","t":125,"a":-4.5,"b":-4.0},
{"g":"CWS","e":"FC3","t":150,"a":-0.9,"b":-0.3},{"g":"CWS","e":"FC3","t":175,"a":4.2,"b":4.7},{"g":"CWS","e":"FC3","t":200,"a":7.9,"b":8.3},{"g":"CWS","e":"FC3","t":225,"a":8.3,"b":8.7},{"g":"CWS","e":"FC3","t":250,"a":4.2,"b":4.7},{"g":"CWS","e":"FC3","t":275,"a":0.2,"b":0.4},{"g":"CWS","e":"FC3","t":300,"a":-3.4,"b":-2.9},{"g":"CWS","e":"FC3","t":325,"a":-4.8,"b":-4.3},{"g":"CWS","e":"FC3","t":350,"a":-4.5,"b":-3.1},{"g":"CWS","e":"FC3","t":375,"a":-2.2,"b":-1.8,"s":1},
{"g":"CWS","e":"FC3","t":400,"a":-2.9,"b":-2.0,"s":1},{"g":"CWS","e":"FC3","t":425,"a":-3.4,"b":-2.6,"s":1},{"g":"CWS","e":"FC3","t":450,"a":-2.6,"b":-1.8},{"g":"CWS","e":"FC3","t":475,"a":-1.8,"b":-0.7},{"g":"CWS","e":"FC3","t":500,"a":-0.9,"b":0.8},{"g":"CWS","e":"FC3","t":525,"a":0.2,"b":2.5},{"g":"CWS","e":"FC3","t":550,"a":1.1,"b":4.2},{"g":"CWS","e":"FC3","t":575,"a":1.6,"b":5.3},{"g":"CWS","e":"FC3","t":600,"a":2.5,"b":5.8},{"g":"CWS","e":"FC3","t":625,"a":3.4,"b":6.1},
{"g":"CWS","e":"FC3","t":650,"a":4.2,"b":5.6},{"g":"CWS","e":"FC3","t":675,"a":4.7,"b":5.3},{"g":"CWS","e":"FC3","t":700,"a":5.3,"b":5.6},{"g":"CWS","e":"FC3","t":725,"a":5.3,"b":4.9},{"g":"CWS","e":"FC3","t":750,"a":5.6,"b":5.3},{"g":"CWS","e":"FC3","t":775,"a":5.3,"b":5.8},{"g":"CWS","e":"FC3","t":800,"a":5.6,"b":5.6},{"g":"CWS","e":"FC3","t":825,"a":5.8,"b":5.8},{"g":"CWS","e":"FC3","t":850,"a":6.1,"b":6.1},{"g":"CWS","e":"FC3","t":875,"a":6.1,"b":6.1},{"g":"CWS","e":"FC3","t":900,"a":6.4,"b":6.7},

{"g":"CWS","e":"FC4","t":-100,"a":0.6,"b":0.3},{"g":"CWS","e":"FC4","t":-75,"a":0.3,"b":0},{"g":"CWS","e":"FC4","t":-50,"a":-0.3,"b":-0.6},{"g":"CWS","e":"FC4","t":-25,"a":-0.6,"b":-0.9},{"g":"CWS","e":"FC4","t":0,"a":-0.8,"b":-1.1},{"g":"CWS","e":"FC4","t":25,"a":-0.6,"b":-0.8},{"g":"CWS","e":"FC4","t":50,"a":-0.3,"b":-0.6},{"g":"CWS","e":"FC4","t":75,"a":-1.1,"b":-1.5},{"g":"CWS","e":"FC4","t":100,"a":-4.5,"b":-4.2},{"g":"CWS","e":"FC4","t":125,"a":-3.7,"b":-3.4},
{"g":"CWS","e":"FC4","t":150,"a":1.7,"b":1.9},{"g":"CWS","e":"FC4","t":175,"a":6.2,"b":6.4},{"g":"CWS","e":"FC4","t":200,"a":9.0,"b":8.7},{"g":"CWS","e":"FC4","t":225,"a":6.2,"b":6.0},{"g":"CWS","e":"FC4","t":250,"a":1.7,"b":1.5},{"g":"CWS","e":"FC4","t":275,"a":-2.2,"b":-2.6},{"g":"CWS","e":"FC4","t":300,"a":-3.9,"b":-3.9},{"g":"CWS","e":"FC4","t":325,"a":-4.5,"b":-4.2},{"g":"CWS","e":"FC4","t":350,"a":-3.4,"b":-3.0},{"g":"CWS","e":"FC4","t":375,"a":-2.2,"b":-2.2},
{"g":"CWS","e":"FC4","t":400,"a":-2.6,"b":-1.9},{"g":"CWS","e":"FC4","t":425,"a":-2.2,"b":-1.1,"s":1},{"g":"CWS","e":"FC4","t":450,"a":-1.1,"b":0,"s":1},{"g":"CWS","e":"FC4","t":475,"a":0,"b":1.1,"s":1},{"g":"CWS","e":"FC4","t":500,"a":0.6,"b":1.9,"s":1},{"g":"CWS","e":"FC4","t":525,"a":1.5,"b":2.6,"s":1},{"g":"CWS","e":"FC4","t":550,"a":1.9,"b":3.0,"s":1},{"g":"CWS","e":"FC4","t":575,"a":2.6,"b":3.4,"s":1},{"g":"CWS","e":"FC4","t":600,"a":3.0,"b":3.7},{"g":"CWS","e":"FC4","t":625,"a":4.2,"b":3.9},
{"g":"CWS","e":"FC4","t":650,"a":5.6,"b":4.5},{"g":"CWS","e":"FC4","t":675,"a":5.1,"b":4.2},{"g":"CWS","e":"FC4","t":700,"a":4.5,"b":4.5},{"g":"CWS","e":"FC4","t":725,"a":4.5,"b":5.1},{"g":"CWS","e":"FC4","t":750,"a":4.3,"b":5.6},{"g":"CWS","e":"FC4","t":775,"a":4.6,"b":6.2},{"g":"CWS","e":"FC4","t":800,"a":5.1,"b":6.7},{"g":"CWS","e":"FC4","t":825,"a":4.8,"b":6.2},{"g":"CWS","e":"FC4","t":850,"a":5.3,"b":6.0},{"g":"CWS","e":"FC4","t":875,"a":5.6,"b":6.7},{"g":"CWS","e":"FC4","t":900,"a":6.0,"b":7.5},

{"g":"CWS","e":"CP3","t":-100,"a":1.7,"b":1.1},{"g":"CWS","e":"CP3","t":-75,"a":1.1,"b":0.6},{"g":"CWS","e":"CP3","t":-50,"a":0.2,"b":0},{"g":"CWS","e":"CP3","t":-25,"a":-0.2,"b":-0.4},{"g":"CWS","e":"CP3","t":0,"a":-0.6,"b":-0.9},{"g":"CWS","e":"CP3","t":25,"a":-0.9,"b":-1.1},{"g":"CWS","e":"CP3","t":50,"a":0,"b":-0.9},{"g":"CWS","e":"CP3","t":75,"a":-1.3,"b":-1.3},{"g":"CWS","e":"CP3","t":100,"a":-2.5,"b":-1.7},{"g":"CWS","e":"CP3","t":125,"a":-0.6,"b":-1.1},
{"g":"CWS","e":"CP3","t":150,"a":1.1,"b":1.1},{"g":"CWS","e":"CP3","t":175,"a":2.0,"b":2.2},{"g":"CWS","e":"CP3","t":200,"a":5.1,"b":4.7},{"g":"CWS","e":"CP3","t":225,"a":7.3,"b":7.0},{"g":"CWS","e":"CP3","t":250,"a":8.8,"b":7.6},{"g":"CWS","e":"CP3","t":275,"a":6.5,"b":5.6},{"g":"CWS","e":"CP3","t":300,"a":2.2,"b":2.0},{"g":"CWS","e":"CP3","t":325,"a":-1.1,"b":-0.9},{"g":"CWS","e":"CP3","t":350,"a":-2.2,"b":-1.7},{"g":"CWS","e":"CP3","t":375,"a":-2.5,"b":-1.3},
{"g":"CWS","e":"CP3","t":400,"a":-0.2,"b":0},{"g":"CWS","e":"CP3","t":425,"a":1.7,"b":1.7},{"g":"CWS","e":"CP3","t":450,"a":3.4,"b":2.5},{"g":"CWS","e":"CP3","t":475,"a":3.6,"b":2.8,"s":1},{"g":"CWS","e":"CP3","t":500,"a":4.5,"b":3.4,"s":1},{"g":"CWS","e":"CP3","t":525,"a":5.6,"b":3.9,"s":1},{"g":"CWS","e":"CP3","t":550,"a":6.7,"b":4.7,"s":1},{"g":"CWS","e":"CP3","t":575,"a":8.4,"b":5.4,"s":1},{"g":"CWS","e":"CP3","t":600,"a":10.1,"b":6.2,"s":1},{"g":"CWS","e":"CP3","t":625,"a":11.0,"b":7.3},
{"g":"CWS","e":"CP3","t":650,"a":10.3,"b":7.3},{"g":"CWS","e":"CP3","t":675,"a":9.9,"b":7.6},{"g":"CWS","e":"CP3","t":700,"a":9.2,"b":7.9},{"g":"CWS","e":"CP3","t":725,"a":8.8,"b":8.1},{"g":"CWS","e":"CP3","t":750,"a":8.4,"b":8.4},{"g":"CWS","e":"CP3","t":775,"a":8.4,"b":8.4},{"g":"CWS","e":"CP3","t":800,"a":8.4,"b":8.4},{"g":"CWS","e":"CP3","t":825,"a":8.4,"b":8.1},{"g":"CWS","e":"CP3","t":850,"a":7.9,"b":7.9},{"g":"CWS","e":"CP3","t":875,"a":7.6,"b":8.4},{"g":"CWS","e":"CP3","t":900,"a":8.4,"b":9.2},

{"g":"CWS","e":"CP4","t":-100,"a":1.1,"b":0.9},{"g":"CWS","e":"CP4","t":-75,"a":0.3,"b":0.1},{"g":"CWS","e":"CP4","t":-50,"a":-0.2,"b":-0.6},{"g":"CWS","e":"CP4","t":-25,"a":-0.8,"b":-1.3},{"g":"CWS","e":"CP4","t":0,"a":-1.0,"b":-1.9},{"g":"CWS","e":"CP4","t":25,"a":-2.1,"b":-2.5},{"g":"CWS","e":"CP4","t":50,"a":-1.9,"b":-1.7},{"g":"CWS","e":"CP4","t":75,"a":-2.5,"b":-2.1},{"g":"CWS","e":"CP4","t":100,"a":-3.3,"b":-2.5},{"g":"CWS","e":"CP4","t":125,"a":-1.7,"b":-1.3},
{"g":"CWS","e":"CP4","t":150,"a":0.1,"b":0.3},{"g":"CWS","e":"CP4","t":175,"a":0.9,"b":1.5},{"g":"CWS","e":"CP4","t":200,"a":3.1,"b":3.7},{"g":"CWS","e":"CP4","t":225,"a":5.7,"b":6.5},{"g":"CWS","e":"CP4","t":250,"a":6.5,"b":7.3},{"g":"CWS","e":"CP4","t":275,"a":3.7,"b":4.3},{"g":"CWS","e":"CP4","t":300,"a":-0.2,"b":0.1},{"g":"CWS","e":"CP4","t":325,"a":-2.1,"b":-1.7},{"g":"CWS","e":"CP4","t":350,"a":-1.9,"b":-1.0},{"g":"CWS","e":"CP4","t":375,"a":-0.2,"b":0.9},
{"g":"CWS","e":"CP4","t":400,"a":2.6,"b":3.7},{"g":"CWS","e":"CP4","t":425,"a":4.8,"b":4.6},{"g":"CWS","e":"CP4","t":450,"a":5.7,"b":5.1,"s":1},{"g":"CWS","e":"CP4","t":475,"a":5.4,"b":5.4,"s":1},{"g":"CWS","e":"CP4","t":500,"a":6.0,"b":6.2,"s":1},{"g":"CWS","e":"CP4","t":525,"a":6.5,"b":6.9,"s":1},{"g":"CWS","e":"CP4","t":550,"a":7.1,"b":7.3,"s":1},{"g":"CWS","e":"CP4","t":575,"a":8.0,"b":7.6,"s":1},{"g":"CWS","e":"CP4","t":600,"a":8.8,"b":8.2,"s":1},{"g":"CWS","e":"CP4","t":625,"a":9.3,"b":8.8},
{"g":"CWS","e":"CP4","t":650,"a":8.2,"b":8.2},{"g":"CWS","e":"CP4","t":675,"a":7.6,"b":8.4},{"g":"CWS","e":"CP4","t":700,"a":6.5,"b":8.8},{"g":"CWS","e":"CP4","t":725,"a":6.5,"b":9.1},{"g":"CWS","e":"CP4","t":750,"a":6.3,"b":8.2},{"g":"CWS","e":"CP4","t":775,"a":6.2,"b":8.0},{"g":"CWS","e":"CP4","t":800,"a":5.1,"b":8.8},{"g":"CWS","e":"CP4","t":825,"a":6.5,"b":9.3},{"g":"CWS","e":"CP4","t":850,"a":5.7,"b":9.1},{"g":"CWS","e":"CP4","t":875,"a":5.1,"b":9.6},{"g":"CWS","e":"CP4","t":900,"a":5.4,"b":9.9},

{"g":"CWS","e":"TP7","t":-100,"a":0.4,"b":0.2},{"g":"CWS","e":"TP7","t":-75,"a":0.2,"b":0.2},{"g":"CWS","e":"TP7","t":-50,"a":0,"b":0},{"g":"CWS","e":"TP7","t":-25,"a":0.2,"b":0},{"g":"CWS","e":"TP7","t":0,"a":0,"b":0},{"g":"CWS","e":"TP7","t":25,"a":-0.3,"b":-0.7},{"g":"CWS","e":"TP7","t":50,"a":-0.3,"b":-0.9},{"g":"CWS","e":"TP7","t":75,"a":-0.9,"b":-1.1},{"g":"CWS","e":"TP7","t":100,"a":-1.5,"b":-1.1},{"g":"CWS","e":"TP7","t":125,"a":0.2,"b":-0.3},
{"g":"CWS","e":"TP7","t":150,"a":-0.3,"b":0},{"g":"CWS","e":"TP7","t":175,"a":0.2,"b":0.4},{"g":"CWS","e":"TP7","t":200,"a":1.9,"b":1.9},{"g":"CWS","e":"TP7","t":225,"a":4.2,"b":3.6},{"g":"CWS","e":"TP7","t":250,"a":5.6,"b":4.7},{"g":"CWS","e":"TP7","t":275,"a":4.2,"b":3.8},{"g":"CWS","e":"TP7","t":300,"a":1.3,"b":0.8},{"g":"CWS","e":"TP7","t":325,"a":-0.9,"b":-0.9},{"g":"CWS","e":"TP7","t":350,"a":-1.8,"b":-1.1},{"g":"CWS","e":"TP7","t":375,"a":-1.5,"b":-0.9},
{"g":"CWS","e":"TP7","t":400,"a":-0.7,"b":-0.7},{"g":"CWS","e":"TP7","t":425,"a":0.2,"b":0},{"g":"CWS","e":"TP7","t":450,"a":0.8,"b":0.2},{"g":"CWS","e":"TP7","t":475,"a":0.8,"b":0.2},{"g":"CWS","e":"TP7","t":500,"a":0.4,"b":0.8},{"g":"CWS","e":"TP7","t":525,"a":1.1,"b":1.9},{"g":"CWS","e":"TP7","t":550,"a":1.6,"b":3.0},{"g":"CWS","e":"TP7","t":575,"a":2.7,"b":3.8},{"g":"CWS","e":"TP7","t":600,"a":4.2,"b":3.8},{"g":"CWS","e":"TP7","t":625,"a":4.9,"b":4.2},
{"g":"CWS","e":"TP7","t":650,"a":5.3,"b":3.8},{"g":"CWS","e":"TP7","t":675,"a":4.5,"b":4.2},{"g":"CWS","e":"TP7","t":700,"a":4.2,"b":3.8},{"g":"CWS","e":"TP7","t":725,"a":3.8,"b":3.6},{"g":"CWS","e":"TP7","t":750,"a":3.6,"b":3.4},{"g":"CWS","e":"TP7","t":775,"a":3.4,"b":3.0},{"g":"CWS","e":"TP7","t":800,"a":3.4,"b":3.4},{"g":"CWS","e":"TP7","t":825,"a":3.0,"b":3.4},{"g":"CWS","e":"TP7","t":850,"a":2.7,"b":3.0},{"g":"CWS","e":"TP7","t":875,"a":2.7,"b":3.4},{"g":"CWS","e":"TP7","t":900,"a":3.0,"b":3.8},

{"g":"CWS","e":"TP8","t":-100,"a":0.2,"b":0},{"g":"CWS","e":"TP8","t":-75,"a":0,"b":-0.2},{"g":"CWS","e":"TP8","t":-50,"a":-0.2,"b":-0.4},{"g":"CWS","e":"TP8","t":-25,"a":-0.6,"b":-0.7},{"g":"CWS","e":"TP8","t":0,"a":-0.6,"b":-0.9},{"g":"CWS","e":"TP8","t":25,"a":-0.9,"b":-1.1},{"g":"CWS","e":"TP8","t":50,"a":-1.1,"b":-1.3},{"g":"CWS","e":"TP8","t":75,"a":-1.7,"b":-1.7},{"g":"CWS","e":"TP8","t":100,"a":-2.0,"b":-1.3},{"g":"CWS","e":"TP8","t":125,"a":-1.1,"b":-0.9},
{"g":"CWS","e":"TP8","t":150,"a":-1.1,"b":-1.3},{"g":"CWS","e":"TP8","t":175,"a":-2.2,"b":-1.7},{"g":"CWS","e":"TP8","t":200,"a":0.6,"b":1.1},{"g":"CWS","e":"TP8","t":225,"a":3.4,"b":4.3},{"g":"CWS","e":"TP8","t":250,"a":5.1,"b":5.8},{"g":"CWS","e":"TP8","t":275,"a":4.5,"b":5.1},{"g":"CWS","e":"TP8","t":300,"a":0.6,"b":1.7},{"g":"CWS","e":"TP8","t":325,"a":-1.3,"b":-0.2},{"g":"CWS","e":"TP8","t":350,"a":-1.3,"b":0},{"g":"CWS","e":"TP8","t":375,"a":0,"b":1.3},
{"g":"CWS","e":"TP8","t":400,"a":0.6,"b":2.2},{"g":"CWS","e":"TP8","t":425,"a":0.9,"b":2.8},{"g":"CWS","e":"TP8","t":450,"a":1.1,"b":3.1},{"g":"CWS","e":"TP8","t":475,"a":1.3,"b":3.1},{"g":"CWS","e":"TP8","t":500,"a":1.7,"b":3.4},{"g":"CWS","e":"TP8","t":525,"a":2.0,"b":3.6},{"g":"CWS","e":"TP8","t":550,"a":2.5,"b":3.9},{"g":"CWS","e":"TP8","t":575,"a":3.4,"b":4.5},{"g":"CWS","e":"TP8","t":600,"a":4.3,"b":4.7},{"g":"CWS","e":"TP8","t":625,"a":4.5,"b":4.7},
{"g":"CWS","e":"TP8","t":650,"a":3.9,"b":4.3},{"g":"CWS","e":"TP8","t":675,"a":3.4,"b":3.6},{"g":"CWS","e":"TP8","t":700,"a":2.8,"b":3.4},{"g":"CWS","e":"TP8","t":725,"a":3.1,"b":3.1},{"g":"CWS","e":"TP8","t":750,"a":2.8,"b":3.1},{"g":"CWS","e":"TP8","t":775,"a":2.2,"b":3.6},{"g":"CWS","e":"TP8","t":800,"a":2.0,"b":3.9},{"g":"CWS","e":"TP8","t":825,"a":1.7,"b":4.3},{"g":"CWS","e":"TP8","t":850,"a":1.7,"b":4.5},{"g":"CWS","e":"TP8","t":875,"a":1.3,"b":4.7},{"g":"CWS","e":"TP8","t":900,"a":1.3,"b":5.1},

{"g":"CWS","e":"O1","t":-100,"a":0.3,"b":0.3},{"g":"CWS","e":"O1","t":-75,"a":0,"b":0.1},{"g":"CWS","e":"O1","t":-50,"a":-0.2,"b":0},{"g":"CWS","e":"O1","t":-25,"a":-0.4,"b":-0.2},{"g":"CWS","e":"O1","t":0,"a":0,"b":0},{"g":"CWS","e":"O1","t":25,"a":0.3,"b":0.7},{"g":"CWS","e":"O1","t":50,"a":1.1,"b":1.5},{"g":"CWS","e":"O1","t":75,"a":3.7,"b":4.0},{"g":"CWS","e":"O1","t":100,"a":6.3,"b":6.0},{"g":"CWS","e":"O1","t":125,"a":7.2,"b":6.7},
{"g":"CWS","e":"O1","t":150,"a":3.1,"b":3.4},{"g":"CWS","e":"O1","t":175,"a":-4.7,"b":-4.2},{"g":"CWS","e":"O1","t":200,"a":-7.3,"b":-7.0},{"g":"CWS","e":"O1","t":225,"a":-3.6,"b":-3.0},{"g":"CWS","e":"O1","t":250,"a":2.6,"b":3.7},{"g":"CWS","e":"O1","t":275,"a":3.7,"b":5.2},{"g":"CWS","e":"O1","t":300,"a":3.4,"b":5.4},{"g":"CWS","e":"O1","t":325,"a":2.9,"b":4.8},{"g":"CWS","e":"O1","t":350,"a":2.0,"b":4.3},{"g":"CWS","e":"O1","t":375,"a":0.9,"b":4.0},
{"g":"CWS","e":"O1","t":400,"a":1.5,"b":4.3},{"g":"CWS","e":"O1","t":425,"a":2.2,"b":4.0},{"g":"CWS","e":"O1","t":450,"a":2.6,"b":3.7},{"g":"CWS","e":"O1","t":475,"a":2.0,"b":3.7},{"g":"CWS","e":"O1","t":500,"a":2.6,"b":4.0},{"g":"CWS","e":"O1","t":525,"a":3.1,"b":4.3},{"g":"CWS","e":"O1","t":550,"a":2.6,"b":4.0},{"g":"CWS","e":"O1","t":575,"a":2.0,"b":3.7},{"g":"CWS","e":"O1","t":600,"a":3.7,"b":3.7},{"g":"CWS","e":"O1","t":625,"a":3.4,"b":3.4},
{"g":"CWS","e":"O1","t":650,"a":3.7,"b":3.1},{"g":"CWS","e":"O1","t":675,"a":2.9,"b":3.4},{"g":"CWS","e":"O1","t":700,"a":2.2,"b":3.1},{"g":"CWS","e":"O1","t":725,"a":1.8,"b":2.6},{"g":"CWS","e":"O1","t":750,"a":1.8,"b":2.2},{"g":"CWS","e":"O1","t":775,"a":1.1,"b":1.8},{"g":"CWS","e":"O1","t":800,"a":0.7,"b":1.5},{"g":"CWS","e":"O1","t":825,"a":0.3,"b":1.1},{"g":"CWS","e":"O1","t":850,"a":0.7,"b":0.9},{"g":"CWS","e":"O1","t":875,"a":-0.2,"b":1.1},{"g":"CWS","e":"O1","t":900,"a":0.1,"b":2.0},

{"g":"CWS","e":"O2","t":-100,"a":0.3,"b":0.3},{"g":"CWS","e":"O2","t":-75,"a":0.1,"b":0.2},{"g":"CWS","e":"O2","t":-50,"a":-0.2,"b":0},{"g":"CWS","e":"O2","t":-25,"a":0,"b":0.2},{"g":"CWS","e":"O2","t":0,"a":0.3,"b":0.7},{"g":"CWS","e":"O2","t":25,"a":0.7,"b":1.1},{"g":"CWS","e":"O2","t":50,"a":1.5,"b":2.0},{"g":"CWS","e":"O2","t":75,"a":3.7,"b":4.3},{"g":"CWS","e":"O2","t":100,"a":5.6,"b":6.3},{"g":"CWS","e":"O2","t":125,"a":6.0,"b":6.7},
{"g":"CWS","e":"O2","t":150,"a":0.9,"b":1.8},{"g":"CWS","e":"O2","t":175,"a":-5.3,"b":-4.7},{"g":"CWS","e":"O2","t":200,"a":-7.9,"b":-7.5},{"g":"CWS","e":"O2","t":225,"a":-4.2,"b":-3.6},{"g":"CWS","e":"O2","t":250,"a":1.5,"b":2.9},{"g":"CWS","e":"O2","t":275,"a":2.6,"b":4.8},{"g":"CWS","e":"O2","t":300,"a":1.5,"b":4.3},{"g":"CWS","e":"O2","t":325,"a":2.6,"b":4.0},{"g":"CWS","e":"O2","t":350,"a":0.9,"b":3.7},{"g":"CWS","e":"O2","t":375,"a":-0.2,"b":2.0},
{"g":"CWS","e":"O2","t":400,"a":-1.3,"b":1.1},{"g":"CWS","e":"O2","t":425,"a":0,"b":1.5},{"g":"CWS","e":"O2","t":450,"a":0,"b":1.5},{"g":"CWS","e":"O2","t":475,"a":0.7,"b":1.1},{"g":"CWS","e":"O2","t":500,"a":0.3,"b":1.5},{"g":"CWS","e":"O2","t":525,"a":1.5,"b":2.0},{"g":"CWS","e":"O2","t":550,"a":1.8,"b":2.2},{"g":"CWS","e":"O2","t":575,"a":2.2,"b":2.0},{"g":"CWS","e":"O2","t":600,"a":2.6,"b":2.6},{"g":"CWS","e":"O2","t":625,"a":3.4,"b":2.9},
{"g":"CWS","e":"O2","t":650,"a":4.0,"b":3.4},{"g":"CWS","e":"O2","t":675,"a":2.6,"b":3.1},{"g":"CWS","e":"O2","t":700,"a":1.5,"b":2.6},{"g":"CWS","e":"O2","t":725,"a":2.9,"b":2.2},{"g":"CWS","e":"O2","t":750,"a":2.6,"b":2.0},{"g":"CWS","e":"O2","t":775,"a":1.5,"b":1.5},{"g":"CWS","e":"O2","t":800,"a":0.3,"b":1.1},{"g":"CWS","e":"O2","t":825,"a":0,"b":0.7},{"g":"CWS","e":"O2","t":850,"a":1.5,"b":0.3},{"g":"CWS","e":"O2","t":875,"a":0.7,"b":1.5},{"g":"CWS","e":"O2","t":900,"a":0,"b":3.7}
]},
"spacing":-25.5,
"hconcat":[
{"title":{"text":"Normally Fluent Children","offset":-31.5,"baseline":"alphabetic","anchor":"middle","dx":9},
 "vconcat":[
 {"vconcat":[
  {"hconcat":[
   {"transform":[{"filter":"datum.g == 'NFC' && datum.e == 'F7'"}],"width":142,"height":99,
    "encoding":{"x":{"field":"t","type":"quantitative","scale":{"domain":[-100,900],"nice":false,"zero":false},"axis":{"orient":"bottom","offset":-45,"values":[-100,0,100,200,300,400,500,600,700,800,900],"labels":false,"title":null}},"y":{"field":"a","type":"quantitative","scale":{"domain":[-18,15],"reverse":true,"nice":false,"zero":false},"axis":{"orient":"left","offset":-14.2,"domain":false,"values":[-10,-7.5,-5,-2.5,0,2.5,5,7.5,10,12.5,15],"labels":false,"title":null}}},
    "layer":[
     {"transform":[{"filter":"datum.s == 1"}],"mark":{"type":"area","color":"#7a7a7a","opacity":1},"encoding":{"y2":{"field":"b"}}},
     {"mark":{"type":"line","color":"#8c8c8c","strokeWidth":1.6},"encoding":{"y":{"field":"b","type":"quantitative","axis":null}}},
     {"mark":{"type":"line","color":"#000000","strokeWidth":2}},
     {"transform":[{"filter":"datum.t == -100"}],"mark":{"type":"rule","color":"#9a9a9a","strokeWidth":1},"encoding":{"x":{"datum":0,"type":"quantitative"},"y":{"datum":-10,"type":"quantitative"},"y2":{"datum":15}}},
     {"transform":[{"filter":"datum.t == -100"}],"mark":{"type":"text","fontSize":15,"align":"left","baseline":"alphabetic"},"encoding":{"x":{"datum":55,"type":"quantitative"},"y":{"datum":-8.2,"type":"quantitative"},"text":{"field":"e"}}}
    ]},
   {"transform":[{"filter":"datum.g == 'NFC' && datum.e == 'F8'"}],"width":142,"height":99,
    "encoding":{"x":{"field":"t","type":"quantitative","scale":{"domain":[-100,900],"nice":false,"zero":false},"axis":{"orient":"bottom","offset":-45,"values":[-100,0,100,200,300,400,500,600,700,800,900],"labels":false,"title":null}},"y":{"field":"a","type":"quantitative","scale":{"domain":[-18,15],"reverse":true,"nice":false,"zero":false},"axis":{"orient":"left","offset":-14.2,"domain":false,"values":[-10,-7.5,-5,-2.5,0,2.5,5,7.5,10,12.5,15],"labels":false,"title":null}}},
    "layer":[
     {"transform":[{"filter":"datum.s == 1"}],"mark":{"type":"area","color":"#7a7a7a","opacity":1},"encoding":{"y2":{"field":"b"}}},
     {"mark":{"type":"line","color":"#8c8c8c","strokeWidth":1.6},"encoding":{"y":{"field":"b","type":"quantitative","axis":null}}},
     {"mark":{"type":"line","color":"#000000","strokeWidth":2}},
     {"transform":[{"filter":"datum.t == -100"}],"mark":{"type":"rule","color":"#9a9a9a","strokeWidth":1},"encoding":{"x":{"datum":0,"type":"quantitative"},"y":{"datum":-10,"type":"quantitative"},"y2":{"datum":15}}},
     {"transform":[{"filter":"datum.t == -100"}],"mark":{"type":"text","fontSize":15,"align":"left","baseline":"alphabetic"},"encoding":{"x":{"datum":55,"type":"quantitative"},"y":{"datum":-8.2,"type":"quantitative"},"text":{"field":"e"}}}
    ]}
  ],"spacing":36},
  {"hconcat":[
   {"transform":[{"filter":"datum.g == 'NFC' && datum.e == 'FC3'"}],"width":142,"height":99,
    "encoding":{"x":{"field":"t","type":"quantitative","scale":{"domain":[-100,900],"nice":false,"zero":false},"axis":{"orient":"bottom","offset":-45,"values":[-100,0,100,200,300,400,500,600,700,800,900],"labels":false,"title":null}},"y":{"field":"a","type":"quantitative","scale":{"domain":[-18,15],"reverse":true,"nice":false,"zero":false},"axis":{"orient":"left","offset":-14.2,"domain":false,"values":[-10,-7.5,-5,-2.5,0,2.5,5,7.5,10,12.5,15],"labels":false,"title":null}}},
    "layer":[
     {"transform":[{"filter":"datum.s == 1"}],"mark":{"type":"area","color":"#7a7a7a","opacity":1},"encoding":{"y2":{"field":"b"}}},
     {"mark":{"type":"line","color":"#8c8c8c","strokeWidth":1.6},"encoding":{"y":{"field":"b","type":"quantitative","axis":null}}},
     {"mark":{"type":"line","color":"#000000","strokeWidth":2}},
     {"transform":[{"filter":"datum.t == -100"}],"mark":{"type":"rule","color":"#9a9a9a","strokeWidth":1},"encoding":{"x":{"datum":0,"type":"quantitative"},"y":{"datum":-10,"type":"quantitative"},"y2":{"datum":15}}},
     {"transform":[{"filter":"datum.t == -100"}],"mark":{"type":"text","fontSize":15,"align":"left","baseline":"alphabetic"},"encoding":{"x":{"datum":55,"type":"quantitative"},"y":{"datum":-8.2,"type":"quantitative"},"text":{"field":"e"}}},
     {"transform":[{"filter":"datum.t == -100"}],"mark":{"type":"rule","color":"#000","strokeWidth":1.5},"encoding":{"x":{"datum":671,"type":"quantitative"},"y":{"datum":-13.2,"type":"quantitative"},"x2":{"datum":524},"y2":{"datum":-9.0}}},
     {"transform":[{"filter":"datum.t == -100"}],"mark":{"type":"point","shape":"triangle-up","filled":true,"color":"#000","size":70,"angle":239,"opacity":1},"encoding":{"x":{"datum":524,"type":"quantitative"},"y":{"datum":-9.0,"type":"quantitative"}}},
     {"transform":[{"filter":"datum.t == -100"}],"mark":{"type":"text","text":"N400","fontSize":12,"align":"left","baseline":"middle"},"encoding":{"x":{"datum":693,"type":"quantitative"},"y":{"datum":-14.2,"type":"quantitative"}}}
    ]},
   {"transform":[{"filter":"datum.g == 'NFC' && datum.e == 'FC4'"}],"width":142,"height":99,
    "encoding":{"x":{"field":"t","type":"quantitative","scale":{"domain":[-100,900],"nice":false,"zero":false},"axis":{"orient":"bottom","offset":-45,"values":[-100,0,100,200,300,400,500,600,700,800,900],"labels":false,"title":null}},"y":{"field":"a","type":"quantitative","scale":{"domain":[-18,15],"reverse":true,"nice":false,"zero":false},"axis":{"orient":"left","offset":-14.2,"domain":false,"values":[-10,-7.5,-5,-2.5,0,2.5,5,7.5,10,12.5,15],"labels":false,"title":null}}},
    "layer":[
     {"transform":[{"filter":"datum.s == 1"}],"mark":{"type":"area","color":"#7a7a7a","opacity":1},"encoding":{"y2":{"field":"b"}}},
     {"mark":{"type":"line","color":"#8c8c8c","strokeWidth":1.6},"encoding":{"y":{"field":"b","type":"quantitative","axis":null}}},
     {"mark":{"type":"line","color":"#000000","strokeWidth":2}},
     {"transform":[{"filter":"datum.t == -100"}],"mark":{"type":"rule","color":"#9a9a9a","strokeWidth":1},"encoding":{"x":{"datum":0,"type":"quantitative"},"y":{"datum":-10,"type":"quantitative"},"y2":{"datum":15}}},
     {"transform":[{"filter":"datum.t == -100"}],"mark":{"type":"text","fontSize":15,"align":"left","baseline":"alphabetic"},"encoding":{"x":{"datum":55,"type":"quantitative"},"y":{"datum":-8.2,"type":"quantitative"},"text":{"field":"e"}}}
    ]}
  ],"spacing":36},
  {"hconcat":[
   {"transform":[{"filter":"datum.g == 'NFC' && datum.e == 'CP3'"}],"width":142,"height":99,
    "encoding":{"x":{"field":"t","type":"quantitative","scale":{"domain":[-100,900],"nice":false,"zero":false},"axis":{"orient":"bottom","offset":-45,"values":[-100,0,100,200,300,400,500,600,700,800,900],"labels":false,"title":null}},"y":{"field":"a","type":"quantitative","scale":{"domain":[-18,15],"reverse":true,"nice":false,"zero":false},"axis":{"orient":"left","offset":-14.2,"domain":false,"values":[-10,-7.5,-5,-2.5,0,2.5,5,7.5,10,12.5,15],"labels":false,"title":null}}},
    "layer":[
     {"transform":[{"filter":"datum.s == 1"}],"mark":{"type":"area","color":"#7a7a7a","opacity":1},"encoding":{"y2":{"field":"b"}}},
     {"mark":{"type":"line","color":"#8c8c8c","strokeWidth":1.6},"encoding":{"y":{"field":"b","type":"quantitative","axis":null}}},
     {"mark":{"type":"line","color":"#000000","strokeWidth":2}},
     {"transform":[{"filter":"datum.t == -100"}],"mark":{"type":"rule","color":"#9a9a9a","strokeWidth":1},"encoding":{"x":{"datum":0,"type":"quantitative"},"y":{"datum":-10,"type":"quantitative"},"y2":{"datum":15}}},
     {"transform":[{"filter":"datum.t == -100"}],"mark":{"type":"text","fontSize":15,"align":"left","baseline":"alphabetic"},"encoding":{"x":{"datum":55,"type":"quantitative"},"y":{"datum":-8.2,"type":"quantitative"},"text":{"field":"e"}}}
    ]},
   {"transform":[{"filter":"datum.g == 'NFC' && datum.e == 'CP4'"}],"width":142,"height":99,
    "encoding":{"x":{"field":"t","type":"quantitative","scale":{"domain":[-100,900],"nice":false,"zero":false},"axis":{"orient":"bottom","offset":-45,"values":[-100,0,100,200,300,400,500,600,700,800,900],"labels":false,"title":null}},"y":{"field":"a","type":"quantitative","scale":{"domain":[-18,15],"reverse":true,"nice":false,"zero":false},"axis":{"orient":"left","offset":-14.2,"domain":false,"values":[-10,-7.5,-5,-2.5,0,2.5,5,7.5,10,12.5,15],"labels":false,"title":null}}},
    "layer":[
     {"transform":[{"filter":"datum.s == 1"}],"mark":{"type":"area","color":"#7a7a7a","opacity":1},"encoding":{"y2":{"field":"b"}}},
     {"mark":{"type":"line","color":"#8c8c8c","strokeWidth":1.6},"encoding":{"y":{"field":"b","type":"quantitative","axis":null}}},
     {"mark":{"type":"line","color":"#000000","strokeWidth":2}},
     {"transform":[{"filter":"datum.t == -100"}],"mark":{"type":"rule","color":"#9a9a9a","strokeWidth":1},"encoding":{"x":{"datum":0,"type":"quantitative"},"y":{"datum":-10,"type":"quantitative"},"y2":{"datum":15}}},
     {"transform":[{"filter":"datum.t == -100"}],"mark":{"type":"text","fontSize":15,"align":"left","baseline":"alphabetic"},"encoding":{"x":{"datum":55,"type":"quantitative"},"y":{"datum":-8.2,"type":"quantitative"},"text":{"field":"e"}}}
    ]}
  ],"spacing":36},
  {"hconcat":[
   {"transform":[{"filter":"datum.g == 'NFC' && datum.e == 'TP7'"}],"width":142,"height":99,
    "encoding":{"x":{"field":"t","type":"quantitative","scale":{"domain":[-100,900],"nice":false,"zero":false},"axis":{"orient":"bottom","offset":-45,"values":[-100,0,100,200,300,400,500,600,700,800,900],"labels":false,"title":null}},"y":{"field":"a","type":"quantitative","scale":{"domain":[-18,15],"reverse":true,"nice":false,"zero":false},"axis":{"orient":"left","offset":-14.2,"domain":false,"values":[-10,-7.5,-5,-2.5,0,2.5,5,7.5,10,12.5,15],"labels":false,"title":null}}},
    "layer":[
     {"transform":[{"filter":"datum.s == 1"}],"mark":{"type":"area","color":"#7a7a7a","opacity":1},"encoding":{"y2":{"field":"b"}}},
     {"mark":{"type":"line","color":"#8c8c8c","strokeWidth":1.6},"encoding":{"y":{"field":"b","type":"quantitative","axis":null}}},
     {"mark":{"type":"line","color":"#000000","strokeWidth":2}},
     {"transform":[{"filter":"datum.t == -100"}],"mark":{"type":"rule","color":"#9a9a9a","strokeWidth":1},"encoding":{"x":{"datum":0,"type":"quantitative"},"y":{"datum":-10,"type":"quantitative"},"y2":{"datum":15}}},
     {"transform":[{"filter":"datum.t == -100"}],"mark":{"type":"text","fontSize":15,"align":"left","baseline":"alphabetic"},"encoding":{"x":{"datum":55,"type":"quantitative"},"y":{"datum":-8.2,"type":"quantitative"},"text":{"field":"e"}}}
    ]},
   {"transform":[{"filter":"datum.g == 'NFC' && datum.e == 'TP8'"}],"width":142,"height":99,
    "encoding":{"x":{"field":"t","type":"quantitative","scale":{"domain":[-100,900],"nice":false,"zero":false},"axis":{"orient":"bottom","offset":-45,"values":[-100,0,100,200,300,400,500,600,700,800,900],"labels":false,"title":null}},"y":{"field":"a","type":"quantitative","scale":{"domain":[-18,15],"reverse":true,"nice":false,"zero":false},"axis":{"orient":"left","offset":-14.2,"domain":false,"values":[-10,-7.5,-5,-2.5,0,2.5,5,7.5,10,12.5,15],"labels":false,"title":null}}},
    "layer":[
     {"transform":[{"filter":"datum.s == 1"}],"mark":{"type":"area","color":"#7a7a7a","opacity":1},"encoding":{"y2":{"field":"b"}}},
     {"mark":{"type":"line","color":"#8c8c8c","strokeWidth":1.6},"encoding":{"y":{"field":"b","type":"quantitative","axis":null}}},
     {"mark":{"type":"line","color":"#000000","strokeWidth":2}},
     {"transform":[{"filter":"datum.t == -100"}],"mark":{"type":"rule","color":"#9a9a9a","strokeWidth":1},"encoding":{"x":{"datum":0,"type":"quantitative"},"y":{"datum":-10,"type":"quantitative"},"y2":{"datum":15}}},
     {"transform":[{"filter":"datum.t == -100"}],"mark":{"type":"text","fontSize":15,"align":"left","baseline":"alphabetic"},"encoding":{"x":{"datum":55,"type":"quantitative"},"y":{"datum":-8.2,"type":"quantitative"},"text":{"field":"e"}}}
    ]}
  ],"spacing":36},
  {"hconcat":[
   {"transform":[{"filter":"datum.g == 'NFC' && datum.e == 'O1'"}],"width":142,"height":99,
    "encoding":{"x":{"field":"t","type":"quantitative","scale":{"domain":[-100,900],"nice":false,"zero":false},"axis":{"orient":"bottom","offset":-45,"values":[-100,0,100,200,300,400,500,600,700,800,900],"labels":false,"title":null}},"y":{"field":"a","type":"quantitative","scale":{"domain":[-18,15],"reverse":true,"nice":false,"zero":false},"axis":{"orient":"left","offset":-14.2,"domain":false,"values":[-10,-7.5,-5,-2.5,0,2.5,5,7.5,10,12.5,15],"labels":false,"title":null}}},
    "layer":[
     {"transform":[{"filter":"datum.s == 1"}],"mark":{"type":"area","color":"#7a7a7a","opacity":1},"encoding":{"y2":{"field":"b"}}},
     {"mark":{"type":"line","color":"#8c8c8c","strokeWidth":1.6},"encoding":{"y":{"field":"b","type":"quantitative","axis":null}}},
     {"mark":{"type":"line","color":"#000000","strokeWidth":2}},
     {"transform":[{"filter":"datum.t == -100"}],"mark":{"type":"rule","color":"#9a9a9a","strokeWidth":1},"encoding":{"x":{"datum":0,"type":"quantitative"},"y":{"datum":-10,"type":"quantitative"},"y2":{"datum":15}}},
     {"transform":[{"filter":"datum.t == -100"}],"mark":{"type":"text","fontSize":15,"align":"left","baseline":"alphabetic"},"encoding":{"x":{"datum":55,"type":"quantitative"},"y":{"datum":-8.2,"type":"quantitative"},"text":{"field":"e"}}}
    ]},
   {"transform":[{"filter":"datum.g == 'NFC' && datum.e == 'O2'"}],"width":142,"height":99,
    "encoding":{"x":{"field":"t","type":"quantitative","scale":{"domain":[-100,900],"nice":false,"zero":false},"axis":{"orient":"bottom","offset":-45,"values":[-100,0,100,200,300,400,500,600,700,800,900],"labels":false,"title":null}},"y":{"field":"a","type":"quantitative","scale":{"domain":[-18,15],"reverse":true,"nice":false,"zero":false},"axis":{"orient":"left","offset":-14.2,"domain":false,"values":[-10,-7.5,-5,-2.5,0,2.5,5,7.5,10,12.5,15],"labels":false,"title":null}}},
    "layer":[
     {"transform":[{"filter":"datum.s == 1"}],"mark":{"type":"area","color":"#7a7a7a","opacity":1},"encoding":{"y2":{"field":"b"}}},
     {"mark":{"type":"line","color":"#8c8c8c","strokeWidth":1.6},"encoding":{"y":{"field":"b","type":"quantitative","axis":null}}},
     {"mark":{"type":"line","color":"#000000","strokeWidth":2}},
     {"transform":[{"filter":"datum.t == -100"}],"mark":{"type":"rule","color":"#9a9a9a","strokeWidth":1},"encoding":{"x":{"datum":0,"type":"quantitative"},"y":{"datum":-10,"type":"quantitative"},"y2":{"datum":15}}},
     {"transform":[{"filter":"datum.t == -100"}],"mark":{"type":"text","fontSize":15,"align":"left","baseline":"alphabetic"},"encoding":{"x":{"datum":55,"type":"quantitative"},"y":{"datum":-8.2,"type":"quantitative"},"text":{"field":"e"}}}
    ]}
  ],"spacing":36}
 ],"spacing":7},
 {"width":142,"height":75,
  "layer":[
   {"data":{"values":[{"ms":100},{"ms":300},{"ms":500},{"ms":700},{"ms":900}]},
    "mark":{"type":"text","fontSize":12,"align":"center","baseline":"middle"},
    "encoding":{
     "x":{"field":"ms","type":"quantitative","scale":{"domain":[-100,900],"nice":false,"zero":false},"axis":{"orient":"bottom","offset":-45,"values":[-100,0,100,200,300,400,500,600,700,800,900],"title":null,"labels":false}},
     "y":{"datum":5.3,"type":"quantitative","scale":{"domain":[-10,15],"reverse":true,"nice":false,"zero":false},"axis":{"orient":"left","offset":-14.2,"values":[-10,-7.5,-5,-2.5,0,2.5,5,7.5,10,12.5,15],"title":null,"labels":true,"labelExpr":"datum.value == -10 ? '-10' : (datum.value == 15 ? '15' : '')","labelFontSize":12,"labelColor":"#000","labelAlign":"left","labelPadding":22,"labelFlush":false,"labelOverlap":false,"labelFont":"Liberation Sans"}},
     "text":{"field":"ms"}}},
   {"data":{"values":[{"unit":"μV"}]},
    "mark":{"type":"text","fontSize":13,"align":"right","baseline":"middle","dx":-4},
    "encoding":{"x":{"datum":-100,"type":"quantitative"},"y":{"datum":0,"type":"quantitative"},"text":{"field":"unit"}}},
   {"data":{"values":[{"unit":"ms"}]},
    "mark":{"type":"text","fontSize":12,"align":"center","baseline":"middle"},
    "encoding":{"x":{"datum":380,"type":"quantitative"},"y":{"datum":13,"type":"quantitative"},"text":{"field":"unit"}}}
  ]
 }
],"spacing":29},
{"hconcat":[
{"width":234,"height":651,
 "data":{"values":[
  {"n":"FP1","u":-0.19,"v":0.51},{"n":"FP2","u":0.27,"v":0.51},{"n":"F7","u":-0.52,"v":0.38},{"n":"F8","u":0.54,"v":0.38},
  {"n":"F3","u":-0.39,"v":0.29},{"n":"FZ","u":-0.02,"v":0.29},{"n":"F4","u":0.39,"v":0.29},
  {"n":"FT7","u":-0.58,"v":0.13},{"n":"FC3","u":-0.30,"v":0.14},{"n":"FCZ","u":-0.02,"v":0.12},{"n":"FC4","u":0.31,"v":0.14},{"n":"FT8","u":0.54,"v":0.13},
  {"n":"T7","u":-0.62,"v":-0.04},{"n":"C3","u":-0.28,"v":-0.04},{"n":"CZ","u":0.12,"v":-0.04},{"n":"C4","u":0.52,"v":-0.04},{"n":"T8","u":0.82,"v":-0.04},
  {"n":"CP3","u":-0.30,"v":-0.24},{"n":"CPZ","u":-0.02,"v":-0.24},{"n":"CP4","u":0.37,"v":-0.24},
  {"n":"TP7","u":-0.54,"v":-0.34},{"n":"PZ","u":0.02,"v":-0.40},{"n":"TP8","u":0.59,"v":-0.34},
  {"n":"P3","u":-0.28,"v":-0.46},{"n":"P4","u":0.33,"v":-0.46},{"n":"P7","u":-0.51,"v":-0.55},{"n":"P8","u":0.56,"v":-0.55},
  {"n":"O1","u":-0.25,"v":-0.65},{"n":"OZ","u":0,"v":-0.67},{"n":"O2","u":0.26,"v":-0.65}
 ]},
 "encoding":{
  "x":{"field":"u","type":"quantitative","scale":{"domain":[-1.04,1.04],"nice":false,"zero":false},"axis":null},
  "y":{"field":"v","type":"quantitative","scale":{"domain":[-0.8,4.987],"nice":false,"zero":false},"axis":null}
 },
 "layer":[
  {"data":{"values":[
   {"i":0,"u":0,"v":0.78},{"i":1,"u":0.17,"v":0.665},{"i":2,"u":0.35,"v":0.62},{"i":3,"u":0.5,"v":0.55},{"i":4,"u":0.62,"v":0.45},{"i":5,"u":0.71,"v":0.33},{"i":6,"u":0.77,"v":0.16},
   {"i":7,"u":0.86,"v":0.17},{"i":8,"u":0.94,"v":0.12},{"i":9,"u":0.99,"v":0.03},{"i":10,"u":1.0,"v":-0.05},{"i":11,"u":0.97,"v":-0.14},{"i":12,"u":0.9,"v":-0.23},{"i":13,"u":0.82,"v":-0.27},{"i":14,"u":0.755,"v":-0.265},
   {"i":15,"u":0.72,"v":-0.38},{"i":16,"u":0.64,"v":-0.52},{"i":17,"u":0.52,"v":-0.64},{"i":18,"u":0.36,"v":-0.73},{"i":19,"u":0.18,"v":-0.775},{"i":20,"u":0,"v":-0.785},
   {"i":21,"u":-0.18,"v":-0.775},{"i":22,"u":-0.36,"v":-0.73},{"i":23,"u":-0.52,"v":-0.64},{"i":24,"u":-0.64,"v":-0.52},{"i":25,"u":-0.72,"v":-0.38},{"i":26,"u":-0.755,"v":-0.265},
   {"i":27,"u":-0.82,"v":-0.27},{"i":28,"u":-0.9,"v":-0.23},{"i":29,"u":-0.97,"v":-0.14},{"i":30,"u":-1.0,"v":-0.05},{"i":31,"u":-0.99,"v":0.03},{"i":32,"u":-0.94,"v":0.12},{"i":33,"u":-0.86,"v":0.17},{"i":34,"u":-0.77,"v":0.16},
   {"i":35,"u":-0.71,"v":0.33},{"i":36,"u":-0.62,"v":0.45},{"i":37,"u":-0.5,"v":0.55},{"i":38,"u":-0.35,"v":0.62},{"i":39,"u":-0.16,"v":0.65},{"i":40,"u":0,"v":0.78}
  ]},
   "mark":{"type":"line","color":"#000","strokeWidth":1.6,"strokeJoin":"round"},
   "encoding":{"order":{"field":"i","type":"quantitative"}}},
  {"transform":[{"filter":"indexof(['F7','F8','FC3','FC4','CP3','CP4','TP7','TP8'], datum.n) < 0"}],
   "mark":{"type":"text","fontSize":11.5,"color":"#1a1a1a","align":"center","baseline":"middle"},"encoding":{"text":{"field":"n"}}},
  {"transform":[{"filter":"indexof(['F7','F8','FC3','FC4','CP3','CP4','TP7','TP8'], datum.n) >= 0"}],
   "mark":{"type":"text","fontSize":11.5,"fontWeight":"bold","color":"#000","align":"center","baseline":"middle"},"encoding":{"text":{"field":"n"}}}
 ]
},
{"title":{"text":"Children Who Stutter","offset":-31.5,"baseline":"alphabetic","anchor":"middle","dx":-1},
 "vconcat":[
 {"vconcat":[
  {"hconcat":[
   {"transform":[{"filter":"datum.g == 'CWS' && datum.e == 'F7'"}],"width":146,"height":99,
    "encoding":{"x":{"field":"t","type":"quantitative","scale":{"domain":[-100,900],"nice":false,"zero":false},"axis":{"orient":"bottom","offset":-45,"values":[-100,0,100,200,300,400,500,600,700,800,900],"labels":false,"title":null}},"y":{"field":"a","type":"quantitative","scale":{"domain":[-18,15],"reverse":true,"nice":false,"zero":false},"axis":{"orient":"left","offset":-14.6,"domain":false,"values":[-10,-7.5,-5,-2.5,0,2.5,5,7.5,10,12.5,15],"labels":false,"title":null}}},
    "layer":[
     {"transform":[{"filter":"datum.s == 1"}],"mark":{"type":"area","color":"#7a7a7a","opacity":1},"encoding":{"y2":{"field":"b"}}},
     {"mark":{"type":"line","color":"#8c8c8c","strokeWidth":1.6},"encoding":{"y":{"field":"b","type":"quantitative","axis":null}}},
     {"mark":{"type":"line","color":"#000000","strokeWidth":2}},
     {"transform":[{"filter":"datum.t == -100"}],"mark":{"type":"rule","color":"#9a9a9a","strokeWidth":1},"encoding":{"x":{"datum":0,"type":"quantitative"},"y":{"datum":-10,"type":"quantitative"},"y2":{"datum":15}}},
     {"transform":[{"filter":"datum.t == -100"}],"mark":{"type":"text","fontSize":15,"align":"left","baseline":"alphabetic"},"encoding":{"x":{"datum":65,"type":"quantitative"},"y":{"datum":-8.2,"type":"quantitative"},"text":{"field":"e"}}}
    ]},
   {"transform":[{"filter":"datum.g == 'CWS' && datum.e == 'F8'"}],"width":146,"height":99,
    "encoding":{"x":{"field":"t","type":"quantitative","scale":{"domain":[-100,900],"nice":false,"zero":false},"axis":{"orient":"bottom","offset":-45,"values":[-100,0,100,200,300,400,500,600,700,800,900],"labels":false,"title":null}},"y":{"field":"a","type":"quantitative","scale":{"domain":[-18,15],"reverse":true,"nice":false,"zero":false},"axis":{"orient":"left","offset":-14.6,"domain":false,"values":[-10,-7.5,-5,-2.5,0,2.5,5,7.5,10,12.5,15],"labels":false,"title":null}}},
    "layer":[
     {"transform":[{"filter":"datum.s == 1"}],"mark":{"type":"area","color":"#7a7a7a","opacity":1},"encoding":{"y2":{"field":"b"}}},
     {"mark":{"type":"line","color":"#8c8c8c","strokeWidth":1.6},"encoding":{"y":{"field":"b","type":"quantitative","axis":null}}},
     {"mark":{"type":"line","color":"#000000","strokeWidth":2}},
     {"transform":[{"filter":"datum.t == -100"}],"mark":{"type":"rule","color":"#9a9a9a","strokeWidth":1},"encoding":{"x":{"datum":0,"type":"quantitative"},"y":{"datum":-10,"type":"quantitative"},"y2":{"datum":15}}},
     {"transform":[{"filter":"datum.t == -100"}],"mark":{"type":"text","fontSize":15,"align":"left","baseline":"alphabetic"},"encoding":{"x":{"datum":65,"type":"quantitative"},"y":{"datum":-8.2,"type":"quantitative"},"text":{"field":"e"}}}
    ]}
  ],"spacing":36},
  {"hconcat":[
   {"transform":[{"filter":"datum.g == 'CWS' && datum.e == 'FC3'"}],"width":146,"height":99,
    "encoding":{"x":{"field":"t","type":"quantitative","scale":{"domain":[-100,900],"nice":false,"zero":false},"axis":{"orient":"bottom","offset":-45,"values":[-100,0,100,200,300,400,500,600,700,800,900],"labels":false,"title":null}},"y":{"field":"a","type":"quantitative","scale":{"domain":[-18,15],"reverse":true,"nice":false,"zero":false},"axis":{"orient":"left","offset":-14.6,"domain":false,"values":[-10,-7.5,-5,-2.5,0,2.5,5,7.5,10,12.5,15],"labels":false,"title":null}}},
    "layer":[
     {"transform":[{"filter":"datum.s == 1"}],"mark":{"type":"area","color":"#7a7a7a","opacity":1},"encoding":{"y2":{"field":"b"}}},
     {"mark":{"type":"line","color":"#8c8c8c","strokeWidth":1.6},"encoding":{"y":{"field":"b","type":"quantitative","axis":null}}},
     {"mark":{"type":"line","color":"#000000","strokeWidth":2}},
     {"transform":[{"filter":"datum.t == -100"}],"mark":{"type":"rule","color":"#9a9a9a","strokeWidth":1},"encoding":{"x":{"datum":0,"type":"quantitative"},"y":{"datum":-10,"type":"quantitative"},"y2":{"datum":15}}},
     {"transform":[{"filter":"datum.t == -100"}],"mark":{"type":"text","fontSize":15,"align":"left","baseline":"alphabetic"},"encoding":{"x":{"datum":65,"type":"quantitative"},"y":{"datum":-8.2,"type":"quantitative"},"text":{"field":"e"}}},
     {"transform":[{"filter":"datum.t == -100"}],"mark":{"type":"rule","color":"#000","strokeWidth":1.5},"encoding":{"x":{"datum":551,"type":"quantitative"},"y":{"datum":-13.9,"type":"quantitative"},"x2":{"datum":399},"y2":{"datum":-6.7}}},
     {"transform":[{"filter":"datum.t == -100"}],"mark":{"type":"point","shape":"triangle-up","filled":true,"color":"#000","size":70,"angle":226,"opacity":1},"encoding":{"x":{"datum":399,"type":"quantitative"},"y":{"datum":-6.7,"type":"quantitative"}}},
     {"transform":[{"filter":"datum.t == -100"}],"mark":{"type":"text","text":"N400","fontSize":12,"align":"left","baseline":"middle"},"encoding":{"x":{"datum":558,"type":"quantitative"},"y":{"datum":-14.4,"type":"quantitative"}}}
    ]},
   {"transform":[{"filter":"datum.g == 'CWS' && datum.e == 'FC4'"}],"width":146,"height":99,
    "encoding":{"x":{"field":"t","type":"quantitative","scale":{"domain":[-100,900],"nice":false,"zero":false},"axis":{"orient":"bottom","offset":-45,"values":[-100,0,100,200,300,400,500,600,700,800,900],"labels":false,"title":null}},"y":{"field":"a","type":"quantitative","scale":{"domain":[-18,15],"reverse":true,"nice":false,"zero":false},"axis":{"orient":"left","offset":-14.6,"domain":false,"values":[-10,-7.5,-5,-2.5,0,2.5,5,7.5,10,12.5,15],"labels":false,"title":null}}},
    "layer":[
     {"transform":[{"filter":"datum.s == 1"}],"mark":{"type":"area","color":"#7a7a7a","opacity":1},"encoding":{"y2":{"field":"b"}}},
     {"mark":{"type":"line","color":"#8c8c8c","strokeWidth":1.6},"encoding":{"y":{"field":"b","type":"quantitative","axis":null}}},
     {"mark":{"type":"line","color":"#000000","strokeWidth":2}},
     {"transform":[{"filter":"datum.t == -100"}],"mark":{"type":"rule","color":"#9a9a9a","strokeWidth":1},"encoding":{"x":{"datum":0,"type":"quantitative"},"y":{"datum":-10,"type":"quantitative"},"y2":{"datum":15}}},
     {"transform":[{"filter":"datum.t == -100"}],"mark":{"type":"text","fontSize":15,"align":"left","baseline":"alphabetic"},"encoding":{"x":{"datum":65,"type":"quantitative"},"y":{"datum":-8.2,"type":"quantitative"},"text":{"field":"e"}}}
    ]}
  ],"spacing":36},
  {"hconcat":[
   {"transform":[{"filter":"datum.g == 'CWS' && datum.e == 'CP3'"}],"width":146,"height":99,
    "encoding":{"x":{"field":"t","type":"quantitative","scale":{"domain":[-100,900],"nice":false,"zero":false},"axis":{"orient":"bottom","offset":-45,"values":[-100,0,100,200,300,400,500,600,700,800,900],"labels":false,"title":null}},"y":{"field":"a","type":"quantitative","scale":{"domain":[-18,15],"reverse":true,"nice":false,"zero":false},"axis":{"orient":"left","offset":-14.6,"domain":false,"values":[-10,-7.5,-5,-2.5,0,2.5,5,7.5,10,12.5,15],"labels":false,"title":null}}},
    "layer":[
     {"transform":[{"filter":"datum.s == 1"}],"mark":{"type":"area","color":"#7a7a7a","opacity":1},"encoding":{"y2":{"field":"b"}}},
     {"mark":{"type":"line","color":"#8c8c8c","strokeWidth":1.6},"encoding":{"y":{"field":"b","type":"quantitative","axis":null}}},
     {"mark":{"type":"line","color":"#000000","strokeWidth":2}},
     {"transform":[{"filter":"datum.t == -100"}],"mark":{"type":"rule","color":"#9a9a9a","strokeWidth":1},"encoding":{"x":{"datum":0,"type":"quantitative"},"y":{"datum":-10,"type":"quantitative"},"y2":{"datum":15}}},
     {"transform":[{"filter":"datum.t == -100"}],"mark":{"type":"text","fontSize":15,"align":"left","baseline":"alphabetic"},"encoding":{"x":{"datum":65,"type":"quantitative"},"y":{"datum":-8.2,"type":"quantitative"},"text":{"field":"e"}}}
    ]},
   {"transform":[{"filter":"datum.g == 'CWS' && datum.e == 'CP4'"}],"width":146,"height":99,
    "encoding":{"x":{"field":"t","type":"quantitative","scale":{"domain":[-100,900],"nice":false,"zero":false},"axis":{"orient":"bottom","offset":-45,"values":[-100,0,100,200,300,400,500,600,700,800,900],"labels":false,"title":null}},"y":{"field":"a","type":"quantitative","scale":{"domain":[-18,15],"reverse":true,"nice":false,"zero":false},"axis":{"orient":"left","offset":-14.6,"domain":false,"values":[-10,-7.5,-5,-2.5,0,2.5,5,7.5,10,12.5,15],"labels":false,"title":null}}},
    "layer":[
     {"transform":[{"filter":"datum.s == 1"}],"mark":{"type":"area","color":"#7a7a7a","opacity":1},"encoding":{"y2":{"field":"b"}}},
     {"mark":{"type":"line","color":"#8c8c8c","strokeWidth":1.6},"encoding":{"y":{"field":"b","type":"quantitative","axis":null}}},
     {"mark":{"type":"line","color":"#000000","strokeWidth":2}},
     {"transform":[{"filter":"datum.t == -100"}],"mark":{"type":"rule","color":"#9a9a9a","strokeWidth":1},"encoding":{"x":{"datum":0,"type":"quantitative"},"y":{"datum":-10,"type":"quantitative"},"y2":{"datum":15}}},
     {"transform":[{"filter":"datum.t == -100"}],"mark":{"type":"text","fontSize":15,"align":"left","baseline":"alphabetic"},"encoding":{"x":{"datum":65,"type":"quantitative"},"y":{"datum":-8.2,"type":"quantitative"},"text":{"field":"e"}}}
    ]}
  ],"spacing":36},
  {"hconcat":[
   {"transform":[{"filter":"datum.g == 'CWS' && datum.e == 'TP7'"}],"width":146,"height":99,
    "encoding":{"x":{"field":"t","type":"quantitative","scale":{"domain":[-100,900],"nice":false,"zero":false},"axis":{"orient":"bottom","offset":-45,"values":[-100,0,100,200,300,400,500,600,700,800,900],"labels":false,"title":null}},"y":{"field":"a","type":"quantitative","scale":{"domain":[-18,15],"reverse":true,"nice":false,"zero":false},"axis":{"orient":"left","offset":-14.6,"domain":false,"values":[-10,-7.5,-5,-2.5,0,2.5,5,7.5,10,12.5,15],"labels":false,"title":null}}},
    "layer":[
     {"transform":[{"filter":"datum.s == 1"}],"mark":{"type":"area","color":"#7a7a7a","opacity":1},"encoding":{"y2":{"field":"b"}}},
     {"mark":{"type":"line","color":"#8c8c8c","strokeWidth":1.6},"encoding":{"y":{"field":"b","type":"quantitative","axis":null}}},
     {"mark":{"type":"line","color":"#000000","strokeWidth":2}},
     {"transform":[{"filter":"datum.t == -100"}],"mark":{"type":"rule","color":"#9a9a9a","strokeWidth":1},"encoding":{"x":{"datum":0,"type":"quantitative"},"y":{"datum":-10,"type":"quantitative"},"y2":{"datum":15}}},
     {"transform":[{"filter":"datum.t == -100"}],"mark":{"type":"text","fontSize":15,"align":"left","baseline":"alphabetic"},"encoding":{"x":{"datum":65,"type":"quantitative"},"y":{"datum":-8.2,"type":"quantitative"},"text":{"field":"e"}}}
    ]},
   {"transform":[{"filter":"datum.g == 'CWS' && datum.e == 'TP8'"}],"width":146,"height":99,
    "encoding":{"x":{"field":"t","type":"quantitative","scale":{"domain":[-100,900],"nice":false,"zero":false},"axis":{"orient":"bottom","offset":-45,"values":[-100,0,100,200,300,400,500,600,700,800,900],"labels":false,"title":null}},"y":{"field":"a","type":"quantitative","scale":{"domain":[-18,15],"reverse":true,"nice":false,"zero":false},"axis":{"orient":"left","offset":-14.6,"domain":false,"values":[-10,-7.5,-5,-2.5,0,2.5,5,7.5,10,12.5,15],"labels":false,"title":null}}},
    "layer":[
     {"transform":[{"filter":"datum.s == 1"}],"mark":{"type":"area","color":"#7a7a7a","opacity":1},"encoding":{"y2":{"field":"b"}}},
     {"mark":{"type":"line","color":"#8c8c8c","strokeWidth":1.6},"encoding":{"y":{"field":"b","type":"quantitative","axis":null}}},
     {"mark":{"type":"line","color":"#000000","strokeWidth":2}},
     {"transform":[{"filter":"datum.t == -100"}],"mark":{"type":"rule","color":"#9a9a9a","strokeWidth":1},"encoding":{"x":{"datum":0,"type":"quantitative"},"y":{"datum":-10,"type":"quantitative"},"y2":{"datum":15}}},
     {"transform":[{"filter":"datum.t == -100"}],"mark":{"type":"text","fontSize":15,"align":"left","baseline":"alphabetic"},"encoding":{"x":{"datum":65,"type":"quantitative"},"y":{"datum":-8.2,"type":"quantitative"},"text":{"field":"e"}}}
    ]}
  ],"spacing":36},
  {"hconcat":[
   {"transform":[{"filter":"datum.g == 'CWS' && datum.e == 'O1'"}],"width":146,"height":99,
    "encoding":{"x":{"field":"t","type":"quantitative","scale":{"domain":[-100,900],"nice":false,"zero":false},"axis":{"orient":"bottom","offset":-45,"values":[-100,0,100,200,300,400,500,600,700,800,900],"labels":false,"title":null}},"y":{"field":"a","type":"quantitative","scale":{"domain":[-18,15],"reverse":true,"nice":false,"zero":false},"axis":{"orient":"left","offset":-14.6,"domain":false,"values":[-10,-7.5,-5,-2.5,0,2.5,5,7.5,10,12.5,15],"labels":false,"title":null}}},
    "layer":[
     {"transform":[{"filter":"datum.s == 1"}],"mark":{"type":"area","color":"#7a7a7a","opacity":1},"encoding":{"y2":{"field":"b"}}},
     {"mark":{"type":"line","color":"#8c8c8c","strokeWidth":1.6},"encoding":{"y":{"field":"b","type":"quantitative","axis":null}}},
     {"mark":{"type":"line","color":"#000000","strokeWidth":2}},
     {"transform":[{"filter":"datum.t == -100"}],"mark":{"type":"rule","color":"#9a9a9a","strokeWidth":1},"encoding":{"x":{"datum":0,"type":"quantitative"},"y":{"datum":-10,"type":"quantitative"},"y2":{"datum":15}}},
     {"transform":[{"filter":"datum.t == -100"}],"mark":{"type":"text","fontSize":15,"align":"left","baseline":"alphabetic"},"encoding":{"x":{"datum":65,"type":"quantitative"},"y":{"datum":-8.2,"type":"quantitative"},"text":{"field":"e"}}}
    ]},
   {"transform":[{"filter":"datum.g == 'CWS' && datum.e == 'O2'"}],"width":146,"height":99,
    "encoding":{"x":{"field":"t","type":"quantitative","scale":{"domain":[-100,900],"nice":false,"zero":false},"axis":{"orient":"bottom","offset":-45,"values":[-100,0,100,200,300,400,500,600,700,800,900],"labels":false,"title":null}},"y":{"field":"a","type":"quantitative","scale":{"domain":[-18,15],"reverse":true,"nice":false,"zero":false},"axis":{"orient":"left","offset":-14.6,"domain":false,"values":[-10,-7.5,-5,-2.5,0,2.5,5,7.5,10,12.5,15],"labels":false,"title":null}}},
    "layer":[
     {"transform":[{"filter":"datum.s == 1"}],"mark":{"type":"area","color":"#7a7a7a","opacity":1},"encoding":{"y2":{"field":"b"}}},
     {"mark":{"type":"line","color":"#8c8c8c","strokeWidth":1.6},"encoding":{"y":{"field":"b","type":"quantitative","axis":null}}},
     {"mark":{"type":"line","color":"#000000","strokeWidth":2}},
     {"transform":[{"filter":"datum.t == -100"}],"mark":{"type":"rule","color":"#9a9a9a","strokeWidth":1},"encoding":{"x":{"datum":0,"type":"quantitative"},"y":{"datum":-10,"type":"quantitative"},"y2":{"datum":15}}},
     {"transform":[{"filter":"datum.t == -100"}],"mark":{"type":"text","fontSize":15,"align":"left","baseline":"alphabetic"},"encoding":{"x":{"datum":65,"type":"quantitative"},"y":{"datum":-8.2,"type":"quantitative"},"text":{"field":"e"}}}
    ]}
  ],"spacing":36}
 ],"spacing":7},
 {"hconcat":[
   {"width":56,"height":52,
    "data":{"values":[{"cond":"R+O- (CONE, OWN)"},{"cond":"R-O+ (GOWN, OWN)"}]},
    "mark":{"type":"text","align":"left","baseline":"middle","fontSize":15,"color":"#000"},
    "encoding":{"y":{"field":"cond","type":"nominal","sort":null,"scale":{"type":"point","padding":0.5},"axis":null},"text":{"field":"cond"}}},
   {"width":81,"height":52,
    "data":{"values":[{"cond":"R+O- (CONE, OWN)"},{"cond":"R-O+ (GOWN, OWN)"}]},
    "mark":{"type":"rule","strokeWidth":1.8},
    "encoding":{"y":{"field":"cond","type":"nominal","sort":null,"scale":{"type":"point","padding":0.5},"axis":null},"color":{"field":"cond","type":"nominal","sort":null,"scale":{"range":["#000000","#8c8c8c"]},"legend":null}}}
  ],"spacing":17}
],"spacing":22}
],"spacing":-1.5}
]
}
